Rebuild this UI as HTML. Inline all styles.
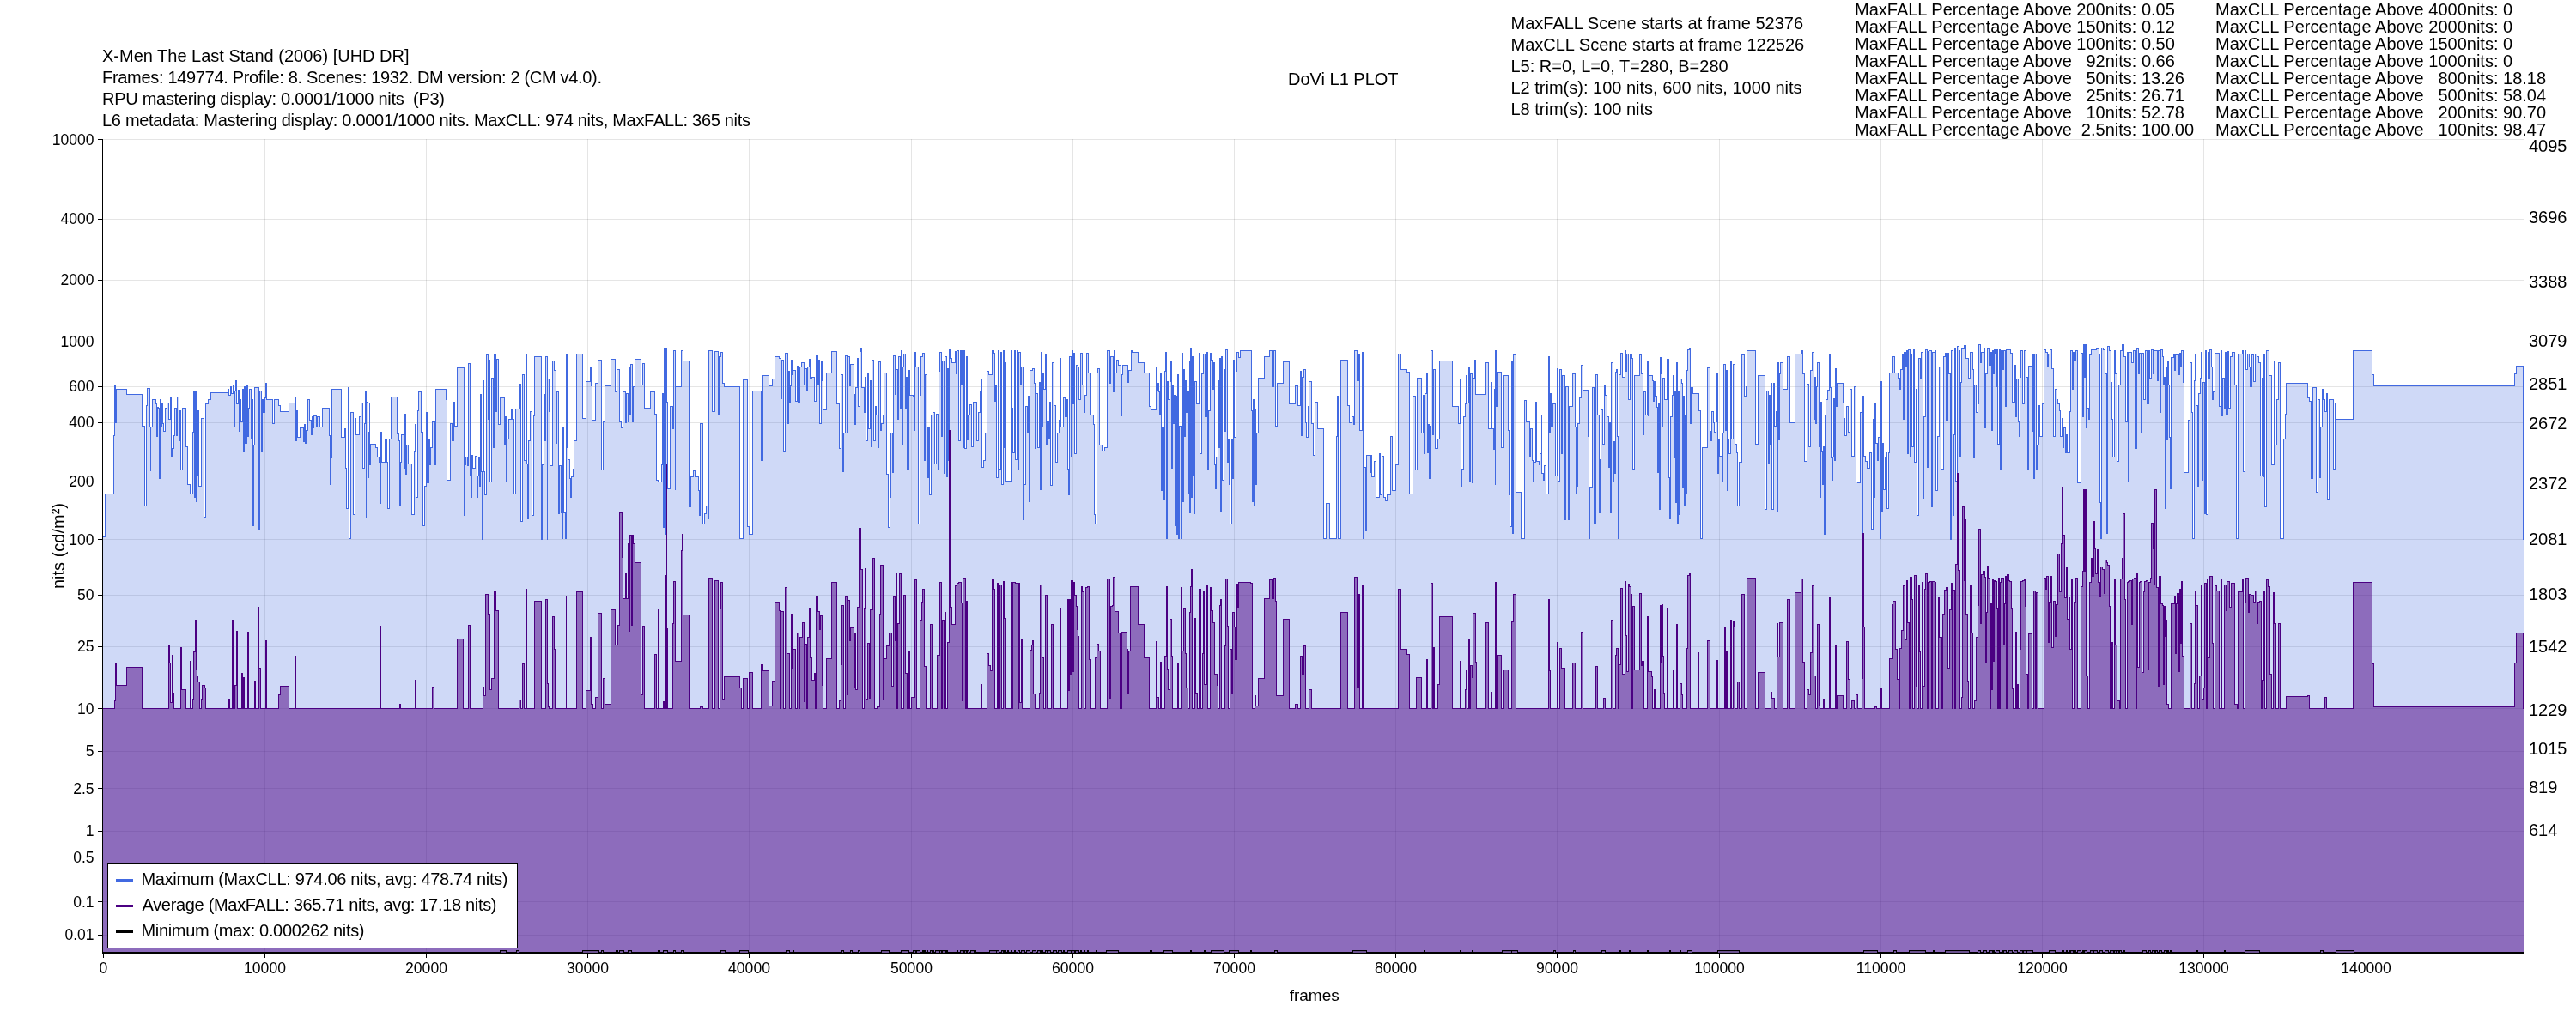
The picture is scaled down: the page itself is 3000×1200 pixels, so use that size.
<!DOCTYPE html><html><head><meta charset="utf-8"><style>html,body{margin:0;padding:0;width:3000px;height:1200px;overflow:hidden;background:#fff}</style></head><body><svg width="3000" height="1200" viewBox="0 0 3000 1200" style="position:absolute;left:0;top:0;font-family:'Liberation Sans', sans-serif;will-change:transform">
<rect width="3000" height="1200" fill="#fff"/>
<g stroke="rgba(0,0,0,0.1)" stroke-width="1" fill="none" shape-rendering="crispEdges"><path d="M120 162.5H2940"/><path d="M120 255.5H2940"/><path d="M120 326.5H2940"/><path d="M120 398.5H2940"/><path d="M120 450.5H2940"/><path d="M120 492.5H2940"/><path d="M120 561.5H2940"/><path d="M120 628.5H2940"/><path d="M120 693.5H2940"/><path d="M120 753.5H2940"/><path d="M120 825.5H2940"/><path d="M120 875.5H2940"/><path d="M120 918.5H2940"/><path d="M120 968.5H2940"/><path d="M120 998.5H2940"/><path d="M120 1050.5H2940"/><path d="M120 1089.5H2940"/><path d="M308.5 162V1110"/><path d="M496.5 162V1110"/><path d="M684.5 162V1110"/><path d="M872.5 162V1110"/><path d="M1061.5 162V1110"/><path d="M1249.5 162V1110"/><path d="M1437.5 162V1110"/><path d="M1625.5 162V1110"/><path d="M1813.5 162V1110"/><path d="M2002.5 162V1110"/><path d="M2190.5 162V1110"/><path d="M2378.5 162V1110"/><path d="M2566.5 162V1110"/><path d="M2755.5 162V1110"/></g>
<path d="M119.5 1109.6V625.5H122.5V575.5H132.5V507.5H133.5V449.5H134.5V492.5H135.5V453.5H147.5V459.5H165.5V496.5H168.5V589.5H170.5V472.5H171.5V452.5H174.5V497.5H175.5V548.5H175.5V497.5H177.5V465.5H181.5V470.5H182.5V508.5H183.5V474.5H184.5V475.5H185.5V557.5H186.5V465.5H187.5V496.5H188.5V470.5H189.5V493.5H190.5V502.5H192.5V475.5H194.5V469.5H196.5V488.5H198.5V462.5H199.5V532.5H200.5V522.5H202.5V507.5H203.5V475.5H205.5V507.5H206.5V462.5H208.5V513.5H209.5V478.5H210.5V547.5H212.5V475.5H216.5V520.5H218.5V564.5H221.5V575.5H224.5V503.5H225.5V455.5H226.5V579.5H227.5V456.5H228.5V584.5H229.5V468.5H229.5V554.5H230.5V478.5H231.5V566.5H234.5V487.5H237.5V602.5H239.5V470.5H242.5V465.5H245.5V457.5H265.5V453.5H266.5V460.5H268.5V450.5H269.5V458.5H271.5V448.5H272.5V497.5H273.5V455.5H274.5V443.5H275.5V470.5H277.5V454.5H278.5V502.5H279.5V465.5H280.5V491.5H282.5V453.5H283.5V526.5H284.5V450.5H285.5V516.5H287.5V448.5H288.5V508.5H289.5V475.5H290.5V453.5H292.5V511.5H293.5V465.5H294.5V612.5H295.5V518.5H296.5V451.5H301.5V455.5H301.5V616.5H302.5V455.5H304.5V526.5H305.5V465.5H306.5V480.5H308.5V463.5H309.5V446.5H310.5V465.5H317.5V493.5H319.5V465.5H324.5V472.5H326.5V479.5H336.5V469.5H343.5V463.5H344.5V513.5H345.5V478.5H346.5V509.5H349.5V498.5H353.5V514.5H354.5V494.5H355.5V516.5H356.5V501.5H358.5V465.5H360.5V489.5H362.5V506.5H363.5V485.5H365.5V498.5H365.5V484.5H368.5V496.5H369.5V485.5H372.5V497.5H375.5V475.5H383.5V507.5H384.5V564.5H385.5V533.5H386.5V453.5H397.5V509.5H401.5V499.5H402.5V545.5H403.5V592.5H405.5V451.5H406.5V627.5H408.5V480.5H411.5V599.5H413.5V487.5H414.5V506.5H418.5V485.5H420.5V469.5H422.5V545.5H424.5V493.5H425.5V455.5H426.5V603.5H426.5V468.5H428.5V556.5H429.5V503.5H430.5V468.5H430.5V541.5H431.5V517.5H437.5V521.5H439.5V532.5H441.5V538.5H442.5V586.5H443.5V503.5H444.5V538.5H448.5V511.5H450.5V538.5H451.5V592.5H453.5V511.5H455.5V462.5H462.5V505.5H464.5V513.5H465.5V589.5H466.5V538.5H467.5V506.5H470.5V545.5H471.5V482.5H472.5V552.5H473.5V518.5H475.5V540.5H479.5V599.5H482.5V526.5H483.5V494.5H484.5V579.5H486.5V478.5H487.5V456.5H490.5V503.5H492.5V612.5H494.5V566.5H496.5V480.5H497.5V562.5H499.5V511.5H500.5V541.5H501.5V521.5H503.5V491.5H506.5V541.5H507.5V453.5H519.5V465.5H520.5V559.5H524.5V493.5H526.5V513.5H528.5V468.5H529.5V496.5H532.5V428.5H540.5V541.5H540.5V600.5H541.5V541.5H542.5V532.5H544.5V542.5H545.5V423.5H547.5V554.5H548.5V579.5H549.5V530.5H550.5V545.5H553.5V531.5H555.5V579.5H556.5V554.5H557.5V532.5H558.5V566.5H559.5V459.5H560.5V549.5H561.5V628.5H562.5V443.5H563.5V549.5H564.5V576.5H566.5V413.5H568.5V488.5H569.5V419.5H570.5V561.5H572.5V440.5H574.5V521.5H575.5V412.5H577.5V479.5H578.5V418.5H580.5V494.5H582.5V463.5H587.5V485.5H587.5V518.5H588.5V485.5H589.5V561.5H590.5V511.5H592.5V488.5H595.5V477.5H596.5V488.5H598.5V575.5H600.5V476.5H605.5V447.5H606.5V607.5H608.5V436.5H610.5V536.5H612.5V412.5H613.5V540.5H614.5V604.5H615.5V513.5H617.5V479.5H619.5V451.5H619.5V600.5H621.5V484.5H622.5V415.5H630.5V628.5H631.5V541.5H633.5V459.5H634.5V513.5H635.5V415.5H637.5V628.5H637.5V441.5H639.5V479.5H640.5V542.5H643.5V420.5H645.5V431.5H647.5V516.5H648.5V456.5H650.5V485.5H650.5V598.5H651.5V542.5H653.5V597.5H654.5V627.5H655.5V498.5H656.5V597.5H658.5V627.5H659.5V413.5H660.5V521.5H661.5V535.5H663.5V557.5H664.5V579.5H665.5V555.5H667.5V546.5H668.5V513.5H671.5V412.5H678.5V487.5H682.5V444.5H687.5V427.5H688.5V449.5H689.5V489.5H693.5V446.5H696.5V419.5H700.5V547.5H702.5V491.5H704.5V449.5H711.5V418.5H716.5V456.5H718.5V430.5H721.5V491.5H723.5V498.5H725.5V456.5H728.5V492.5H729.5V458.5H731.5V491.5H732.5V427.5H733.5V483.5H734.5V424.5H736.5V491.5H737.5V450.5H739.5V418.5H746.5V448.5H748.5V423.5H750.5V475.5H757.5V456.5H762.5V482.5H764.5V559.5H766.5V561.5H770.5V541.5H771.5V458.5H772.5V614.5H773.5V406.5H774.5V622.5H775.5V406.5H776.5V468.5H777.5V569.5H780.5V473.5H783.5V499.5H784.5V408.5H786.5V570.5H786.5V450.5H793.5V408.5H795.5V420.5H802.5V590.5H804.5V555.5H807.5V548.5H809.5V555.5H813.5V571.5H814.5V600.5H815.5V493.5H818.5V610.5H820.5V598.5H822.5V589.5H824.5V604.5H825.5V408.5H829.5V479.5H832.5V409.5H836.5V482.5H837.5V415.5H839.5V410.5H841.5V446.5H843.5V450.5H861.5V627.5H865.5V442.5H870.5V613.5H872.5V622.5H876.5V455.5H886.5V536.5H888.5V437.5H895.5V449.5H899.5V441.5H902.5V415.5H907.5V417.5H909.5V464.5H910.5V419.5H912.5V526.5H914.5V411.5H917.5V493.5H918.5V432.5H919.5V469.5H920.5V449.5H921.5V419.5H922.5V436.5H923.5V431.5H926.5V467.5H928.5V426.5H929.5V469.5H931.5V427.5H933.5V422.5H936.5V448.5H937.5V429.5H939.5V455.5H940.5V427.5H942.5V418.5H943.5V440.5H945.5V439.5H948.5V467.5H950.5V414.5H952.5V448.5H953.5V419.5H954.5V493.5H956.5V420.5H957.5V443.5H958.5V477.5H962.5V434.5H968.5V409.5H974.5V470.5H977.5V522.5H979.5V436.5H981.5V549.5H982.5V504.5H984.5V414.5H986.5V504.5H987.5V415.5H989.5V449.5H990.5V424.5H994.5V459.5H995.5V494.5H996.5V451.5H998.5V417.5H999.5V473.5H1001.5V409.5H1002.5V405.5H1003.5V451.5H1006.5V480.5H1007.5V439.5H1008.5V513.5H1010.5V435.5H1011.5V499.5H1013.5V443.5H1014.5V520.5H1015.5V419.5H1017.5V513.5H1019.5V473.5H1020.5V483.5H1022.5V521.5H1023.5V421.5H1025.5V501.5H1026.5V493.5H1028.5V484.5H1029.5V434.5H1032.5V552.5H1034.5V614.5H1036.5V579.5H1037.5V504.5H1039.5V550.5H1040.5V414.5H1042.5V459.5H1043.5V430.5H1045.5V488.5H1046.5V415.5H1048.5V475.5H1049.5V408.5H1050.5V517.5H1051.5V427.5H1052.5V412.5H1054.5V475.5H1055.5V439.5H1056.5V547.5H1058.5V431.5H1059.5V460.5H1063.5V461.5H1064.5V501.5H1065.5V410.5H1066.5V427.5H1069.5V610.5H1071.5V460.5H1072.5V415.5H1074.5V411.5H1076.5V536.5H1077.5V436.5H1079.5V498.5H1080.5V556.5H1081.5V498.5H1082.5V576.5H1084.5V483.5H1086.5V480.5H1088.5V540.5H1090.5V482.5H1092.5V547.5H1093.5V432.5H1094.5V410.5H1096.5V508.5H1097.5V420.5H1099.5V551.5H1100.5V415.5H1102.5V555.5H1103.5V429.5H1104.5V536.5H1105.5V407.5H1106.5V417.5H1108.5V422.5H1112.5V409.5H1113.5V435.5H1114.5V408.5H1116.5V513.5H1118.5V408.5H1119.5V448.5H1120.5V408.5H1121.5V521.5H1122.5V408.5H1123.5V522.5H1125.5V415.5H1126.5V512.5H1127.5V483.5H1129.5V471.5H1131.5V520.5H1133.5V468.5H1137.5V513.5H1139.5V480.5H1141.5V456.5H1142.5V441.5H1143.5V544.5H1145.5V536.5H1147.5V504.5H1149.5V432.5H1151.5V436.5H1155.5V408.5H1157.5V411.5H1158.5V467.5H1159.5V449.5H1160.5V556.5H1162.5V408.5H1163.5V546.5H1165.5V410.5H1166.5V564.5H1168.5V408.5H1169.5V521.5H1171.5V421.5H1171.5V560.5H1177.5V408.5H1178.5V475.5H1179.5V527.5H1181.5V408.5H1182.5V535.5H1184.5V408.5H1185.5V547.5H1186.5V410.5H1188.5V448.5H1189.5V427.5H1191.5V605.5H1192.5V564.5H1194.5V473.5H1196.5V503.5H1197.5V461.5H1198.5V584.5H1199.5V431.5H1202.5V429.5H1204.5V446.5H1205.5V522.5H1206.5V458.5H1208.5V521.5H1210.5V445.5H1211.5V570.5H1212.5V410.5H1213.5V496.5H1214.5V434.5H1215.5V453.5H1217.5V413.5H1218.5V518.5H1219.5V491.5H1221.5V511.5H1222.5V468.5H1223.5V565.5H1225.5V422.5H1227.5V472.5H1229.5V538.5H1231.5V504.5H1233.5V489.5H1234.5V417.5H1235.5V497.5H1238.5V463.5H1240.5V485.5H1242.5V465.5H1243.5V546.5H1244.5V576.5H1245.5V415.5H1247.5V531.5H1248.5V408.5H1249.5V470.5H1250.5V411.5H1251.5V528.5H1253.5V425.5H1255.5V427.5H1256.5V465.5H1258.5V411.5H1260.5V448.5H1262.5V480.5H1263.5V460.5H1265.5V411.5H1267.5V434.5H1269.5V483.5H1273.5V494.5H1274.5V599.5H1275.5V610.5H1277.5V434.5H1278.5V429.5H1280.5V518.5H1283.5V525.5H1286.5V521.5H1289.5V408.5H1292.5V446.5H1293.5V415.5H1296.5V456.5H1297.5V408.5H1298.5V434.5H1300.5V419.5H1302.5V425.5H1305.5V484.5H1306.5V436.5H1307.5V425.5H1313.5V445.5H1314.5V431.5H1317.5V408.5H1318.5V410.5H1325.5V422.5H1332.5V434.5H1338.5V473.5H1340.5V477.5H1346.5V427.5H1347.5V455.5H1348.5V446.5H1349.5V456.5H1350.5V483.5H1351.5V435.5H1352.5V571.5H1353.5V497.5H1355.5V581.5H1356.5V432.5H1357.5V410.5H1358.5V627.5H1359.5V444.5H1360.5V465.5H1362.5V444.5H1363.5V421.5H1364.5V545.5H1365.5V448.5H1366.5V493.5H1367.5V460.5H1368.5V612.5H1369.5V461.5H1370.5V622.5H1371.5V436.5H1372.5V627.5H1373.5V496.5H1375.5V627.5H1376.5V411.5H1377.5V584.5H1378.5V430.5H1379.5V508.5H1380.5V443.5H1381.5V480.5H1382.5V455.5H1384.5V574.5H1385.5V419.5H1385.5V597.5H1386.5V405.5H1387.5V579.5H1388.5V415.5H1389.5V554.5H1390.5V598.5H1391.5V444.5H1393.5V470.5H1396.5V411.5H1397.5V528.5H1399.5V435.5H1401.5V412.5H1403.5V485.5H1405.5V410.5H1406.5V546.5H1407.5V478.5H1409.5V411.5H1410.5V419.5H1412.5V453.5H1413.5V422.5H1414.5V541.5H1415.5V569.5H1416.5V532.5H1418.5V443.5H1419.5V521.5H1420.5V417.5H1421.5V595.5H1422.5V415.5H1423.5V559.5H1425.5V430.5H1426.5V502.5H1427.5V407.5H1429.5V538.5H1430.5V511.5H1431.5V564.5H1432.5V610.5H1434.5V512.5H1435.5V557.5H1436.5V419.5H1437.5V509.5H1439.5V432.5H1440.5V410.5H1442.5V416.5H1444.5V408.5H1457.5V478.5H1458.5V584.5H1459.5V465.5H1460.5V589.5H1461.5V477.5H1462.5V564.5H1463.5V504.5H1465.5V440.5H1472.5V415.5H1478.5V408.5H1481.5V450.5H1483.5V408.5H1485.5V496.5H1487.5V446.5H1494.5V421.5H1501.5V470.5H1508.5V449.5H1511.5V472.5H1514.5V432.5H1515.5V507.5H1516.5V439.5H1518.5V430.5H1520.5V492.5H1521.5V509.5H1523.5V473.5H1524.5V444.5H1527.5V493.5H1529.5V530.5H1531.5V468.5H1534.5V499.5H1541.5V627.5H1544.5V586.5H1548.5V627.5H1556.5V508.5H1557.5V461.5H1558.5V627.5H1561.5V419.5H1569.5V472.5H1571.5V492.5H1574.5V485.5H1576.5V494.5H1577.5V408.5H1580.5V443.5H1582.5V412.5H1583.5V501.5H1586.5V410.5H1587.5V627.5H1588.5V544.5H1590.5V618.5H1591.5V530.5H1595.5V550.5H1596.5V530.5H1597.5V555.5H1600.5V537.5H1602.5V579.5H1606.5V528.5H1607.5V576.5H1609.5V531.5H1611.5V579.5H1613.5V583.5H1615.5V576.5H1619.5V508.5H1621.5V571.5H1625.5V541.5H1628.5V412.5H1631.5V430.5H1638.5V433.5H1641.5V575.5H1645.5V461.5H1648.5V547.5H1650.5V440.5H1655.5V504.5H1657.5V460.5H1658.5V528.5H1659.5V458.5H1661.5V434.5H1662.5V527.5H1663.5V494.5H1664.5V557.5H1665.5V496.5H1666.5V408.5H1668.5V506.5H1669.5V430.5H1671.5V522.5H1674.5V511.5H1676.5V420.5H1691.5V473.5H1698.5V493.5H1700.5V441.5H1701.5V566.5H1702.5V546.5H1704.5V485.5H1706.5V470.5H1707.5V437.5H1708.5V469.5H1710.5V427.5H1711.5V561.5H1712.5V435.5H1714.5V562.5H1715.5V440.5H1717.5V419.5H1718.5V459.5H1730.5V422.5H1733.5V499.5H1736.5V445.5H1737.5V499.5H1739.5V523.5H1740.5V453.5H1741.5V564.5H1741.5V408.5H1742.5V473.5H1743.5V433.5H1748.5V521.5H1750.5V437.5H1756.5V501.5H1757.5V576.5H1758.5V613.5H1760.5V421.5H1761.5V621.5H1762.5V413.5H1765.5V573.5H1771.5V627.5H1775.5V466.5H1777.5V491.5H1781.5V531.5H1782.5V499.5H1784.5V536.5H1785.5V561.5H1786.5V538.5H1788.5V468.5H1789.5V537.5H1792.5V541.5H1793.5V528.5H1795.5V482.5H1795.5V551.5H1797.5V559.5H1798.5V542.5H1800.5V575.5H1803.5V415.5H1804.5V504.5H1805.5V458.5H1806.5V496.5H1808.5V470.5H1811.5V554.5H1813.5V429.5H1814.5V560.5H1816.5V430.5H1818.5V528.5H1819.5V437.5H1822.5V605.5H1823.5V450.5H1826.5V605.5H1827.5V473.5H1831.5V435.5H1834.5V497.5H1835.5V574.5H1836.5V566.5H1837.5V493.5H1839.5V463.5H1841.5V425.5H1843.5V454.5H1849.5V508.5H1850.5V627.5H1851.5V567.5H1854.5V451.5H1856.5V609.5H1858.5V436.5H1860.5V483.5H1862.5V597.5H1863.5V535.5H1864.5V477.5H1866.5V517.5H1868.5V448.5H1869.5V460.5H1871.5V485.5H1873.5V544.5H1874.5V492.5H1875.5V597.5H1876.5V422.5H1878.5V561.5H1879.5V514.5H1880.5V551.5H1881.5V433.5H1882.5V430.5H1883.5V508.5H1884.5V627.5H1885.5V436.5H1887.5V411.5H1889.5V439.5H1892.5V408.5H1893.5V432.5H1894.5V412.5H1896.5V465.5H1898.5V413.5H1900.5V417.5H1901.5V546.5H1903.5V437.5H1909.5V413.5H1911.5V435.5H1913.5V506.5H1914.5V456.5H1916.5V483.5H1918.5V420.5H1919.5V484.5H1920.5V437.5H1924.5V443.5H1925.5V467.5H1926.5V444.5H1927.5V461.5H1929.5V474.5H1930.5V550.5H1931.5V469.5H1932.5V593.5H1933.5V416.5H1934.5V435.5H1935.5V496.5H1936.5V440.5H1938.5V465.5H1941.5V418.5H1943.5V556.5H1944.5V604.5H1945.5V485.5H1947.5V460.5H1948.5V437.5H1949.5V533.5H1950.5V455.5H1951.5V585.5H1952.5V422.5H1953.5V609.5H1954.5V456.5H1955.5V599.5H1956.5V441.5H1958.5V446.5H1959.5V568.5H1960.5V461.5H1961.5V588.5H1962.5V484.5H1963.5V574.5H1964.5V431.5H1965.5V407.5H1967.5V406.5H1968.5V493.5H1969.5V451.5H1971.5V458.5H1978.5V478.5H1980.5V627.5H1982.5V521.5H1988.5V428.5H1991.5V502.5H1992.5V513.5H1993.5V479.5H1995.5V492.5H1996.5V503.5H1998.5V491.5H1999.5V434.5H2000.5V551.5H2001.5V512.5H2002.5V531.5H2005.5V561.5H2006.5V504.5H2007.5V424.5H2009.5V501.5H2010.5V431.5H2011.5V571.5H2012.5V511.5H2013.5V528.5H2015.5V421.5H2016.5V511.5H2018.5V424.5H2020.5V517.5H2022.5V527.5H2023.5V589.5H2025.5V538.5H2028.5V413.5H2031.5V461.5H2033.5V450.5H2034.5V408.5H2044.5V517.5H2047.5V437.5H2055.5V593.5H2057.5V455.5H2059.5V540.5H2060.5V460.5H2061.5V517.5H2063.5V445.5H2063.5V593.5H2065.5V446.5H2066.5V496.5H2068.5V479.5H2069.5V595.5H2070.5V422.5H2071.5V512.5H2072.5V435.5H2073.5V422.5H2076.5V453.5H2081.5V415.5H2084.5V492.5H2090.5V412.5H2098.5V408.5H2099.5V435.5H2101.5V537.5H2104.5V447.5H2106.5V520.5H2108.5V431.5H2110.5V410.5H2112.5V488.5H2113.5V439.5H2114.5V493.5H2115.5V450.5H2116.5V422.5H2118.5V520.5H2119.5V579.5H2120.5V468.5H2121.5V526.5H2122.5V564.5H2123.5V520.5H2124.5V622.5H2125.5V483.5H2126.5V465.5H2128.5V454.5H2130.5V413.5H2131.5V451.5H2132.5V533.5H2133.5V559.5H2134.5V532.5H2135.5V464.5H2136.5V536.5H2137.5V429.5H2138.5V473.5H2139.5V446.5H2146.5V468.5H2147.5V487.5H2148.5V507.5H2150.5V473.5H2152.5V503.5H2154.5V453.5H2156.5V531.5H2159.5V450.5H2161.5V561.5H2163.5V562.5H2166.5V480.5H2168.5V627.5H2169.5V461.5H2170.5V531.5H2172.5V537.5H2174.5V545.5H2177.5V527.5H2179.5V616.5H2181.5V488.5H2182.5V579.5H2183.5V469.5H2184.5V516.5H2186.5V536.5H2187.5V509.5H2189.5V627.5H2190.5V444.5H2191.5V595.5H2192.5V516.5H2193.5V570.5H2195.5V533.5H2196.5V527.5H2197.5V592.5H2199.5V527.5H2200.5V434.5H2203.5V415.5H2206.5V434.5H2210.5V440.5H2212.5V453.5H2213.5V430.5H2215.5V412.5H2216.5V488.5H2217.5V410.5H2219.5V427.5H2220.5V408.5H2221.5V528.5H2222.5V407.5H2224.5V532.5H2225.5V413.5H2226.5V520.5H2228.5V407.5H2229.5V538.5H2231.5V453.5H2232.5V600.5H2234.5V417.5H2236.5V440.5H2237.5V410.5H2239.5V580.5H2240.5V485.5H2242.5V407.5H2244.5V544.5H2245.5V409.5H2246.5V408.5H2249.5V590.5H2250.5V410.5H2253.5V408.5H2254.5V571.5H2256.5V508.5H2258.5V427.5H2260.5V546.5H2263.5V415.5H2265.5V411.5H2266.5V489.5H2268.5V411.5H2269.5V435.5H2271.5V628.5H2272.5V408.5H2274.5V600.5H2275.5V506.5H2276.5V406.5H2277.5V560.5H2279.5V403.5H2281.5V408.5H2282.5V531.5H2283.5V445.5H2284.5V406.5H2287.5V402.5H2289.5V417.5H2292.5V440.5H2294.5V410.5H2297.5V430.5H2298.5V533.5H2299.5V448.5H2301.5V480.5H2303.5V470.5H2304.5V401.5H2306.5V422.5H2307.5V410.5H2310.5V405.5H2311.5V498.5H2312.5V435.5H2314.5V406.5H2316.5V425.5H2318.5V410.5H2319.5V501.5H2320.5V408.5H2321.5V435.5H2322.5V407.5H2323.5V412.5H2324.5V450.5H2325.5V407.5H2326.5V517.5H2328.5V407.5H2329.5V546.5H2330.5V408.5H2332.5V430.5H2333.5V408.5H2335.5V473.5H2336.5V407.5H2341.5V411.5H2343.5V468.5H2346.5V425.5H2347.5V485.5H2348.5V441.5H2350.5V491.5H2351.5V508.5H2352.5V439.5H2353.5V408.5H2355.5V470.5H2357.5V408.5H2359.5V439.5H2361.5V546.5H2362.5V426.5H2366.5V502.5H2367.5V412.5H2368.5V557.5H2369.5V412.5H2371.5V546.5H2372.5V518.5H2374.5V472.5H2375.5V508.5H2378.5V470.5H2380.5V407.5H2382.5V410.5H2384.5V427.5H2385.5V412.5H2387.5V407.5H2389.5V429.5H2391.5V508.5H2393.5V453.5H2395.5V465.5H2396.5V470.5H2398.5V478.5H2399.5V508.5H2401.5V487.5H2402.5V521.5H2403.5V498.5H2405.5V527.5H2406.5V506.5H2407.5V527.5H2410.5V479.5H2411.5V408.5H2413.5V453.5H2414.5V410.5H2415.5V420.5H2417.5V408.5H2419.5V562.5H2423.5V411.5H2425.5V485.5H2426.5V401.5H2427.5V439.5H2428.5V401.5H2429.5V498.5H2430.5V475.5H2432.5V488.5H2433.5V413.5H2435.5V407.5H2441.5V406.5H2444.5V413.5H2445.5V585.5H2446.5V627.5H2447.5V405.5H2449.5V407.5H2451.5V435.5H2453.5V621.5H2454.5V403.5H2456.5V408.5H2458.5V445.5H2459.5V488.5H2460.5V532.5H2462.5V408.5H2463.5V435.5H2465.5V537.5H2467.5V448.5H2469.5V408.5H2471.5V401.5H2473.5V415.5H2475.5V491.5H2477.5V410.5H2478.5V561.5H2479.5V410.5H2482.5V422.5H2484.5V408.5H2486.5V522.5H2488.5V406.5H2490.5V435.5H2491.5V411.5H2493.5V503.5H2494.5V411.5H2496.5V465.5H2498.5V408.5H2500.5V470.5H2502.5V408.5H2503.5V440.5H2505.5V407.5H2507.5V435.5H2508.5V408.5H2512.5V443.5H2513.5V408.5H2515.5V480.5H2516.5V407.5H2518.5V415.5H2519.5V448.5H2520.5V439.5H2521.5V592.5H2522.5V427.5H2523.5V512.5H2524.5V421.5H2525.5V448.5H2526.5V509.5H2527.5V569.5H2528.5V416.5H2531.5V413.5H2532.5V431.5H2533.5V413.5H2535.5V412.5H2537.5V436.5H2538.5V411.5H2539.5V427.5H2540.5V408.5H2542.5V445.5H2543.5V550.5H2548.5V489.5H2550.5V422.5H2552.5V480.5H2553.5V627.5H2555.5V443.5H2556.5V412.5H2557.5V472.5H2559.5V566.5H2560.5V458.5H2562.5V440.5H2563.5V410.5H2564.5V559.5H2565.5V445.5H2567.5V598.5H2568.5V408.5H2569.5V599.5H2571.5V410.5H2572.5V440.5H2573.5V407.5H2575.5V427.5H2576.5V465.5H2577.5V456.5H2579.5V411.5H2584.5V473.5H2586.5V408.5H2587.5V484.5H2588.5V440.5H2590.5V475.5H2591.5V410.5H2592.5V483.5H2594.5V409.5H2595.5V475.5H2597.5V415.5H2599.5V410.5H2602.5V448.5H2604.5V627.5H2606.5V412.5H2611.5V408.5H2612.5V549.5H2614.5V408.5H2615.5V430.5H2617.5V412.5H2619.5V427.5H2620.5V450.5H2622.5V413.5H2624.5V444.5H2626.5V412.5H2628.5V415.5H2630.5V422.5H2632.5V554.5H2634.5V440.5H2635.5V555.5H2636.5V412.5H2637.5V590.5H2639.5V408.5H2642.5V437.5H2645.5V541.5H2648.5V421.5H2649.5V518.5H2651.5V465.5H2653.5V422.5H2655.5V627.5H2659.5V511.5H2661.5V482.5H2662.5V446.5H2687.5V463.5H2689.5V467.5H2691.5V557.5H2693.5V451.5H2697.5V573.5H2699.5V465.5H2701.5V556.5H2702.5V497.5H2704.5V453.5H2705.5V465.5H2707.5V479.5H2709.5V458.5H2710.5V581.5H2712.5V465.5H2717.5V546.5H2719.5V469.5H2720.5V488.5H2740.5V408.5H2762.5V436.5H2764.5V449.5H2928.5V435.5H2930.5V426.5H2938.5V1109.6Z" fill="rgba(65,105,225,0.25)" stroke="none" shape-rendering="crispEdges"/>
<path d="M119.5 1109.6V625.5H122.5V575.5H132.5V507.5H133.5V449.5H134.5V492.5H135.5V453.5H147.5V459.5H165.5V496.5H168.5V589.5H170.5V472.5H171.5V452.5H174.5V497.5H175.5V548.5H175.5V497.5H177.5V465.5H181.5V470.5H182.5V508.5H183.5V474.5H184.5V475.5H185.5V557.5H186.5V465.5H187.5V496.5H188.5V470.5H189.5V493.5H190.5V502.5H192.5V475.5H194.5V469.5H196.5V488.5H198.5V462.5H199.5V532.5H200.5V522.5H202.5V507.5H203.5V475.5H205.5V507.5H206.5V462.5H208.5V513.5H209.5V478.5H210.5V547.5H212.5V475.5H216.5V520.5H218.5V564.5H221.5V575.5H224.5V503.5H225.5V455.5H226.5V579.5H227.5V456.5H228.5V584.5H229.5V468.5H229.5V554.5H230.5V478.5H231.5V566.5H234.5V487.5H237.5V602.5H239.5V470.5H242.5V465.5H245.5V457.5H265.5V453.5H266.5V460.5H268.5V450.5H269.5V458.5H271.5V448.5H272.5V497.5H273.5V455.5H274.5V443.5H275.5V470.5H277.5V454.5H278.5V502.5H279.5V465.5H280.5V491.5H282.5V453.5H283.5V526.5H284.5V450.5H285.5V516.5H287.5V448.5H288.5V508.5H289.5V475.5H290.5V453.5H292.5V511.5H293.5V465.5H294.5V612.5H295.5V518.5H296.5V451.5H301.5V455.5H301.5V616.5H302.5V455.5H304.5V526.5H305.5V465.5H306.5V480.5H308.5V463.5H309.5V446.5H310.5V465.5H317.5V493.5H319.5V465.5H324.5V472.5H326.5V479.5H336.5V469.5H343.5V463.5H344.5V513.5H345.5V478.5H346.5V509.5H349.5V498.5H353.5V514.5H354.5V494.5H355.5V516.5H356.5V501.5H358.5V465.5H360.5V489.5H362.5V506.5H363.5V485.5H365.5V498.5H365.5V484.5H368.5V496.5H369.5V485.5H372.5V497.5H375.5V475.5H383.5V507.5H384.5V564.5H385.5V533.5H386.5V453.5H397.5V509.5H401.5V499.5H402.5V545.5H403.5V592.5H405.5V451.5H406.5V627.5H408.5V480.5H411.5V599.5H413.5V487.5H414.5V506.5H418.5V485.5H420.5V469.5H422.5V545.5H424.5V493.5H425.5V455.5H426.5V603.5H426.5V468.5H428.5V556.5H429.5V503.5H430.5V468.5H430.5V541.5H431.5V517.5H437.5V521.5H439.5V532.5H441.5V538.5H442.5V586.5H443.5V503.5H444.5V538.5H448.5V511.5H450.5V538.5H451.5V592.5H453.5V511.5H455.5V462.5H462.5V505.5H464.5V513.5H465.5V589.5H466.5V538.5H467.5V506.5H470.5V545.5H471.5V482.5H472.5V552.5H473.5V518.5H475.5V540.5H479.5V599.5H482.5V526.5H483.5V494.5H484.5V579.5H486.5V478.5H487.5V456.5H490.5V503.5H492.5V612.5H494.5V566.5H496.5V480.5H497.5V562.5H499.5V511.5H500.5V541.5H501.5V521.5H503.5V491.5H506.5V541.5H507.5V453.5H519.5V465.5H520.5V559.5H524.5V493.5H526.5V513.5H528.5V468.5H529.5V496.5H532.5V428.5H540.5V541.5H540.5V600.5H541.5V541.5H542.5V532.5H544.5V542.5H545.5V423.5H547.5V554.5H548.5V579.5H549.5V530.5H550.5V545.5H553.5V531.5H555.5V579.5H556.5V554.5H557.5V532.5H558.5V566.5H559.5V459.5H560.5V549.5H561.5V628.5H562.5V443.5H563.5V549.5H564.5V576.5H566.5V413.5H568.5V488.5H569.5V419.5H570.5V561.5H572.5V440.5H574.5V521.5H575.5V412.5H577.5V479.5H578.5V418.5H580.5V494.5H582.5V463.5H587.5V485.5H587.5V518.5H588.5V485.5H589.5V561.5H590.5V511.5H592.5V488.5H595.5V477.5H596.5V488.5H598.5V575.5H600.5V476.5H605.5V447.5H606.5V607.5H608.5V436.5H610.5V536.5H612.5V412.5H613.5V540.5H614.5V604.5H615.5V513.5H617.5V479.5H619.5V451.5H619.5V600.5H621.5V484.5H622.5V415.5H630.5V628.5H631.5V541.5H633.5V459.5H634.5V513.5H635.5V415.5H637.5V628.5H637.5V441.5H639.5V479.5H640.5V542.5H643.5V420.5H645.5V431.5H647.5V516.5H648.5V456.5H650.5V485.5H650.5V598.5H651.5V542.5H653.5V597.5H654.5V627.5H655.5V498.5H656.5V597.5H658.5V627.5H659.5V413.5H660.5V521.5H661.5V535.5H663.5V557.5H664.5V579.5H665.5V555.5H667.5V546.5H668.5V513.5H671.5V412.5H678.5V487.5H682.5V444.5H687.5V427.5H688.5V449.5H689.5V489.5H693.5V446.5H696.5V419.5H700.5V547.5H702.5V491.5H704.5V449.5H711.5V418.5H716.5V456.5H718.5V430.5H721.5V491.5H723.5V498.5H725.5V456.5H728.5V492.5H729.5V458.5H731.5V491.5H732.5V427.5H733.5V483.5H734.5V424.5H736.5V491.5H737.5V450.5H739.5V418.5H746.5V448.5H748.5V423.5H750.5V475.5H757.5V456.5H762.5V482.5H764.5V559.5H766.5V561.5H770.5V541.5H771.5V458.5H772.5V614.5H773.5V406.5H774.5V622.5H775.5V406.5H776.5V468.5H777.5V569.5H780.5V473.5H783.5V499.5H784.5V408.5H786.5V570.5H786.5V450.5H793.5V408.5H795.5V420.5H802.5V590.5H804.5V555.5H807.5V548.5H809.5V555.5H813.5V571.5H814.5V600.5H815.5V493.5H818.5V610.5H820.5V598.5H822.5V589.5H824.5V604.5H825.5V408.5H829.5V479.5H832.5V409.5H836.5V482.5H837.5V415.5H839.5V410.5H841.5V446.5H843.5V450.5H861.5V627.5H865.5V442.5H870.5V613.5H872.5V622.5H876.5V455.5H886.5V536.5H888.5V437.5H895.5V449.5H899.5V441.5H902.5V415.5H907.5V417.5H909.5V464.5H910.5V419.5H912.5V526.5H914.5V411.5H917.5V493.5H918.5V432.5H919.5V469.5H920.5V449.5H921.5V419.5H922.5V436.5H923.5V431.5H926.5V467.5H928.5V426.5H929.5V469.5H931.5V427.5H933.5V422.5H936.5V448.5H937.5V429.5H939.5V455.5H940.5V427.5H942.5V418.5H943.5V440.5H945.5V439.5H948.5V467.5H950.5V414.5H952.5V448.5H953.5V419.5H954.5V493.5H956.5V420.5H957.5V443.5H958.5V477.5H962.5V434.5H968.5V409.5H974.5V470.5H977.5V522.5H979.5V436.5H981.5V549.5H982.5V504.5H984.5V414.5H986.5V504.5H987.5V415.5H989.5V449.5H990.5V424.5H994.5V459.5H995.5V494.5H996.5V451.5H998.5V417.5H999.5V473.5H1001.5V409.5H1002.5V405.5H1003.5V451.5H1006.5V480.5H1007.5V439.5H1008.5V513.5H1010.5V435.5H1011.5V499.5H1013.5V443.5H1014.5V520.5H1015.5V419.5H1017.5V513.5H1019.5V473.5H1020.5V483.5H1022.5V521.5H1023.5V421.5H1025.5V501.5H1026.5V493.5H1028.5V484.5H1029.5V434.5H1032.5V552.5H1034.5V614.5H1036.5V579.5H1037.5V504.5H1039.5V550.5H1040.5V414.5H1042.5V459.5H1043.5V430.5H1045.5V488.5H1046.5V415.5H1048.5V475.5H1049.5V408.5H1050.5V517.5H1051.5V427.5H1052.5V412.5H1054.5V475.5H1055.5V439.5H1056.5V547.5H1058.5V431.5H1059.5V460.5H1063.5V461.5H1064.5V501.5H1065.5V410.5H1066.5V427.5H1069.5V610.5H1071.5V460.5H1072.5V415.5H1074.5V411.5H1076.5V536.5H1077.5V436.5H1079.5V498.5H1080.5V556.5H1081.5V498.5H1082.5V576.5H1084.5V483.5H1086.5V480.5H1088.5V540.5H1090.5V482.5H1092.5V547.5H1093.5V432.5H1094.5V410.5H1096.5V508.5H1097.5V420.5H1099.5V551.5H1100.5V415.5H1102.5V555.5H1103.5V429.5H1104.5V536.5H1105.5V407.5H1106.5V417.5H1108.5V422.5H1112.5V409.5H1113.5V435.5H1114.5V408.5H1116.5V513.5H1118.5V408.5H1119.5V448.5H1120.5V408.5H1121.5V521.5H1122.5V408.5H1123.5V522.5H1125.5V415.5H1126.5V512.5H1127.5V483.5H1129.5V471.5H1131.5V520.5H1133.5V468.5H1137.5V513.5H1139.5V480.5H1141.5V456.5H1142.5V441.5H1143.5V544.5H1145.5V536.5H1147.5V504.5H1149.5V432.5H1151.5V436.5H1155.5V408.5H1157.5V411.5H1158.5V467.5H1159.5V449.5H1160.5V556.5H1162.5V408.5H1163.5V546.5H1165.5V410.5H1166.5V564.5H1168.5V408.5H1169.5V521.5H1171.5V421.5H1171.5V560.5H1177.5V408.5H1178.5V475.5H1179.5V527.5H1181.5V408.5H1182.5V535.5H1184.5V408.5H1185.5V547.5H1186.5V410.5H1188.5V448.5H1189.5V427.5H1191.5V605.5H1192.5V564.5H1194.5V473.5H1196.5V503.5H1197.5V461.5H1198.5V584.5H1199.5V431.5H1202.5V429.5H1204.5V446.5H1205.5V522.5H1206.5V458.5H1208.5V521.5H1210.5V445.5H1211.5V570.5H1212.5V410.5H1213.5V496.5H1214.5V434.5H1215.5V453.5H1217.5V413.5H1218.5V518.5H1219.5V491.5H1221.5V511.5H1222.5V468.5H1223.5V565.5H1225.5V422.5H1227.5V472.5H1229.5V538.5H1231.5V504.5H1233.5V489.5H1234.5V417.5H1235.5V497.5H1238.5V463.5H1240.5V485.5H1242.5V465.5H1243.5V546.5H1244.5V576.5H1245.5V415.5H1247.5V531.5H1248.5V408.5H1249.5V470.5H1250.5V411.5H1251.5V528.5H1253.5V425.5H1255.5V427.5H1256.5V465.5H1258.5V411.5H1260.5V448.5H1262.5V480.5H1263.5V460.5H1265.5V411.5H1267.5V434.5H1269.5V483.5H1273.5V494.5H1274.5V599.5H1275.5V610.5H1277.5V434.5H1278.5V429.5H1280.5V518.5H1283.5V525.5H1286.5V521.5H1289.5V408.5H1292.5V446.5H1293.5V415.5H1296.5V456.5H1297.5V408.5H1298.5V434.5H1300.5V419.5H1302.5V425.5H1305.5V484.5H1306.5V436.5H1307.5V425.5H1313.5V445.5H1314.5V431.5H1317.5V408.5H1318.5V410.5H1325.5V422.5H1332.5V434.5H1338.5V473.5H1340.5V477.5H1346.5V427.5H1347.5V455.5H1348.5V446.5H1349.5V456.5H1350.5V483.5H1351.5V435.5H1352.5V571.5H1353.5V497.5H1355.5V581.5H1356.5V432.5H1357.5V410.5H1358.5V627.5H1359.5V444.5H1360.5V465.5H1362.5V444.5H1363.5V421.5H1364.5V545.5H1365.5V448.5H1366.5V493.5H1367.5V460.5H1368.5V612.5H1369.5V461.5H1370.5V622.5H1371.5V436.5H1372.5V627.5H1373.5V496.5H1375.5V627.5H1376.5V411.5H1377.5V584.5H1378.5V430.5H1379.5V508.5H1380.5V443.5H1381.5V480.5H1382.5V455.5H1384.5V574.5H1385.5V419.5H1385.5V597.5H1386.5V405.5H1387.5V579.5H1388.5V415.5H1389.5V554.5H1390.5V598.5H1391.5V444.5H1393.5V470.5H1396.5V411.5H1397.5V528.5H1399.5V435.5H1401.5V412.5H1403.5V485.5H1405.5V410.5H1406.5V546.5H1407.5V478.5H1409.5V411.5H1410.5V419.5H1412.5V453.5H1413.5V422.5H1414.5V541.5H1415.5V569.5H1416.5V532.5H1418.5V443.5H1419.5V521.5H1420.5V417.5H1421.5V595.5H1422.5V415.5H1423.5V559.5H1425.5V430.5H1426.5V502.5H1427.5V407.5H1429.5V538.5H1430.5V511.5H1431.5V564.5H1432.5V610.5H1434.5V512.5H1435.5V557.5H1436.5V419.5H1437.5V509.5H1439.5V432.5H1440.5V410.5H1442.5V416.5H1444.5V408.5H1457.5V478.5H1458.5V584.5H1459.5V465.5H1460.5V589.5H1461.5V477.5H1462.5V564.5H1463.5V504.5H1465.5V440.5H1472.5V415.5H1478.5V408.5H1481.5V450.5H1483.5V408.5H1485.5V496.5H1487.5V446.5H1494.5V421.5H1501.5V470.5H1508.5V449.5H1511.5V472.5H1514.5V432.5H1515.5V507.5H1516.5V439.5H1518.5V430.5H1520.5V492.5H1521.5V509.5H1523.5V473.5H1524.5V444.5H1527.5V493.5H1529.5V530.5H1531.5V468.5H1534.5V499.5H1541.5V627.5H1544.5V586.5H1548.5V627.5H1556.5V508.5H1557.5V461.5H1558.5V627.5H1561.5V419.5H1569.5V472.5H1571.5V492.5H1574.5V485.5H1576.5V494.5H1577.5V408.5H1580.5V443.5H1582.5V412.5H1583.5V501.5H1586.5V410.5H1587.5V627.5H1588.5V544.5H1590.5V618.5H1591.5V530.5H1595.5V550.5H1596.5V530.5H1597.5V555.5H1600.5V537.5H1602.5V579.5H1606.5V528.5H1607.5V576.5H1609.5V531.5H1611.5V579.5H1613.5V583.5H1615.5V576.5H1619.5V508.5H1621.5V571.5H1625.5V541.5H1628.5V412.5H1631.5V430.5H1638.5V433.5H1641.5V575.5H1645.5V461.5H1648.5V547.5H1650.5V440.5H1655.5V504.5H1657.5V460.5H1658.5V528.5H1659.5V458.5H1661.5V434.5H1662.5V527.5H1663.5V494.5H1664.5V557.5H1665.5V496.5H1666.5V408.5H1668.5V506.5H1669.5V430.5H1671.5V522.5H1674.5V511.5H1676.5V420.5H1691.5V473.5H1698.5V493.5H1700.5V441.5H1701.5V566.5H1702.5V546.5H1704.5V485.5H1706.5V470.5H1707.5V437.5H1708.5V469.5H1710.5V427.5H1711.5V561.5H1712.5V435.5H1714.5V562.5H1715.5V440.5H1717.5V419.5H1718.5V459.5H1730.5V422.5H1733.5V499.5H1736.5V445.5H1737.5V499.5H1739.5V523.5H1740.5V453.5H1741.5V564.5H1741.5V408.5H1742.5V473.5H1743.5V433.5H1748.5V521.5H1750.5V437.5H1756.5V501.5H1757.5V576.5H1758.5V613.5H1760.5V421.5H1761.5V621.5H1762.5V413.5H1765.5V573.5H1771.5V627.5H1775.5V466.5H1777.5V491.5H1781.5V531.5H1782.5V499.5H1784.5V536.5H1785.5V561.5H1786.5V538.5H1788.5V468.5H1789.5V537.5H1792.5V541.5H1793.5V528.5H1795.5V482.5H1795.5V551.5H1797.5V559.5H1798.5V542.5H1800.5V575.5H1803.5V415.5H1804.5V504.5H1805.5V458.5H1806.5V496.5H1808.5V470.5H1811.5V554.5H1813.5V429.5H1814.5V560.5H1816.5V430.5H1818.5V528.5H1819.5V437.5H1822.5V605.5H1823.5V450.5H1826.5V605.5H1827.5V473.5H1831.5V435.5H1834.5V497.5H1835.5V574.5H1836.5V566.5H1837.5V493.5H1839.5V463.5H1841.5V425.5H1843.5V454.5H1849.5V508.5H1850.5V627.5H1851.5V567.5H1854.5V451.5H1856.5V609.5H1858.5V436.5H1860.5V483.5H1862.5V597.5H1863.5V535.5H1864.5V477.5H1866.5V517.5H1868.5V448.5H1869.5V460.5H1871.5V485.5H1873.5V544.5H1874.5V492.5H1875.5V597.5H1876.5V422.5H1878.5V561.5H1879.5V514.5H1880.5V551.5H1881.5V433.5H1882.5V430.5H1883.5V508.5H1884.5V627.5H1885.5V436.5H1887.5V411.5H1889.5V439.5H1892.5V408.5H1893.5V432.5H1894.5V412.5H1896.5V465.5H1898.5V413.5H1900.5V417.5H1901.5V546.5H1903.5V437.5H1909.5V413.5H1911.5V435.5H1913.5V506.5H1914.5V456.5H1916.5V483.5H1918.5V420.5H1919.5V484.5H1920.5V437.5H1924.5V443.5H1925.5V467.5H1926.5V444.5H1927.5V461.5H1929.5V474.5H1930.5V550.5H1931.5V469.5H1932.5V593.5H1933.5V416.5H1934.5V435.5H1935.5V496.5H1936.5V440.5H1938.5V465.5H1941.5V418.5H1943.5V556.5H1944.5V604.5H1945.5V485.5H1947.5V460.5H1948.5V437.5H1949.5V533.5H1950.5V455.5H1951.5V585.5H1952.5V422.5H1953.5V609.5H1954.5V456.5H1955.5V599.5H1956.5V441.5H1958.5V446.5H1959.5V568.5H1960.5V461.5H1961.5V588.5H1962.5V484.5H1963.5V574.5H1964.5V431.5H1965.5V407.5H1967.5V406.5H1968.5V493.5H1969.5V451.5H1971.5V458.5H1978.5V478.5H1980.5V627.5H1982.5V521.5H1988.5V428.5H1991.5V502.5H1992.5V513.5H1993.5V479.5H1995.5V492.5H1996.5V503.5H1998.5V491.5H1999.5V434.5H2000.5V551.5H2001.5V512.5H2002.5V531.5H2005.5V561.5H2006.5V504.5H2007.5V424.5H2009.5V501.5H2010.5V431.5H2011.5V571.5H2012.5V511.5H2013.5V528.5H2015.5V421.5H2016.5V511.5H2018.5V424.5H2020.5V517.5H2022.5V527.5H2023.5V589.5H2025.5V538.5H2028.5V413.5H2031.5V461.5H2033.5V450.5H2034.5V408.5H2044.5V517.5H2047.5V437.5H2055.5V593.5H2057.5V455.5H2059.5V540.5H2060.5V460.5H2061.5V517.5H2063.5V445.5H2063.5V593.5H2065.5V446.5H2066.5V496.5H2068.5V479.5H2069.5V595.5H2070.5V422.5H2071.5V512.5H2072.5V435.5H2073.5V422.5H2076.5V453.5H2081.5V415.5H2084.5V492.5H2090.5V412.5H2098.5V408.5H2099.5V435.5H2101.5V537.5H2104.5V447.5H2106.5V520.5H2108.5V431.5H2110.5V410.5H2112.5V488.5H2113.5V439.5H2114.5V493.5H2115.5V450.5H2116.5V422.5H2118.5V520.5H2119.5V579.5H2120.5V468.5H2121.5V526.5H2122.5V564.5H2123.5V520.5H2124.5V622.5H2125.5V483.5H2126.5V465.5H2128.5V454.5H2130.5V413.5H2131.5V451.5H2132.5V533.5H2133.5V559.5H2134.5V532.5H2135.5V464.5H2136.5V536.5H2137.5V429.5H2138.5V473.5H2139.5V446.5H2146.5V468.5H2147.5V487.5H2148.5V507.5H2150.5V473.5H2152.5V503.5H2154.5V453.5H2156.5V531.5H2159.5V450.5H2161.5V561.5H2163.5V562.5H2166.5V480.5H2168.5V627.5H2169.5V461.5H2170.5V531.5H2172.5V537.5H2174.5V545.5H2177.5V527.5H2179.5V616.5H2181.5V488.5H2182.5V579.5H2183.5V469.5H2184.5V516.5H2186.5V536.5H2187.5V509.5H2189.5V627.5H2190.5V444.5H2191.5V595.5H2192.5V516.5H2193.5V570.5H2195.5V533.5H2196.5V527.5H2197.5V592.5H2199.5V527.5H2200.5V434.5H2203.5V415.5H2206.5V434.5H2210.5V440.5H2212.5V453.5H2213.5V430.5H2215.5V412.5H2216.5V488.5H2217.5V410.5H2219.5V427.5H2220.5V408.5H2221.5V528.5H2222.5V407.5H2224.5V532.5H2225.5V413.5H2226.5V520.5H2228.5V407.5H2229.5V538.5H2231.5V453.5H2232.5V600.5H2234.5V417.5H2236.5V440.5H2237.5V410.5H2239.5V580.5H2240.5V485.5H2242.5V407.5H2244.5V544.5H2245.5V409.5H2246.5V408.5H2249.5V590.5H2250.5V410.5H2253.5V408.5H2254.5V571.5H2256.5V508.5H2258.5V427.5H2260.5V546.5H2263.5V415.5H2265.5V411.5H2266.5V489.5H2268.5V411.5H2269.5V435.5H2271.5V628.5H2272.5V408.5H2274.5V600.5H2275.5V506.5H2276.5V406.5H2277.5V560.5H2279.5V403.5H2281.5V408.5H2282.5V531.5H2283.5V445.5H2284.5V406.5H2287.5V402.5H2289.5V417.5H2292.5V440.5H2294.5V410.5H2297.5V430.5H2298.5V533.5H2299.5V448.5H2301.5V480.5H2303.5V470.5H2304.5V401.5H2306.5V422.5H2307.5V410.5H2310.5V405.5H2311.5V498.5H2312.5V435.5H2314.5V406.5H2316.5V425.5H2318.5V410.5H2319.5V501.5H2320.5V408.5H2321.5V435.5H2322.5V407.5H2323.5V412.5H2324.5V450.5H2325.5V407.5H2326.5V517.5H2328.5V407.5H2329.5V546.5H2330.5V408.5H2332.5V430.5H2333.5V408.5H2335.5V473.5H2336.5V407.5H2341.5V411.5H2343.5V468.5H2346.5V425.5H2347.5V485.5H2348.5V441.5H2350.5V491.5H2351.5V508.5H2352.5V439.5H2353.5V408.5H2355.5V470.5H2357.5V408.5H2359.5V439.5H2361.5V546.5H2362.5V426.5H2366.5V502.5H2367.5V412.5H2368.5V557.5H2369.5V412.5H2371.5V546.5H2372.5V518.5H2374.5V472.5H2375.5V508.5H2378.5V470.5H2380.5V407.5H2382.5V410.5H2384.5V427.5H2385.5V412.5H2387.5V407.5H2389.5V429.5H2391.5V508.5H2393.5V453.5H2395.5V465.5H2396.5V470.5H2398.5V478.5H2399.5V508.5H2401.5V487.5H2402.5V521.5H2403.5V498.5H2405.5V527.5H2406.5V506.5H2407.5V527.5H2410.5V479.5H2411.5V408.5H2413.5V453.5H2414.5V410.5H2415.5V420.5H2417.5V408.5H2419.5V562.5H2423.5V411.5H2425.5V485.5H2426.5V401.5H2427.5V439.5H2428.5V401.5H2429.5V498.5H2430.5V475.5H2432.5V488.5H2433.5V413.5H2435.5V407.5H2441.5V406.5H2444.5V413.5H2445.5V585.5H2446.5V627.5H2447.5V405.5H2449.5V407.5H2451.5V435.5H2453.5V621.5H2454.5V403.5H2456.5V408.5H2458.5V445.5H2459.5V488.5H2460.5V532.5H2462.5V408.5H2463.5V435.5H2465.5V537.5H2467.5V448.5H2469.5V408.5H2471.5V401.5H2473.5V415.5H2475.5V491.5H2477.5V410.5H2478.5V561.5H2479.5V410.5H2482.5V422.5H2484.5V408.5H2486.5V522.5H2488.5V406.5H2490.5V435.5H2491.5V411.5H2493.5V503.5H2494.5V411.5H2496.5V465.5H2498.5V408.5H2500.5V470.5H2502.5V408.5H2503.5V440.5H2505.5V407.5H2507.5V435.5H2508.5V408.5H2512.5V443.5H2513.5V408.5H2515.5V480.5H2516.5V407.5H2518.5V415.5H2519.5V448.5H2520.5V439.5H2521.5V592.5H2522.5V427.5H2523.5V512.5H2524.5V421.5H2525.5V448.5H2526.5V509.5H2527.5V569.5H2528.5V416.5H2531.5V413.5H2532.5V431.5H2533.5V413.5H2535.5V412.5H2537.5V436.5H2538.5V411.5H2539.5V427.5H2540.5V408.5H2542.5V445.5H2543.5V550.5H2548.5V489.5H2550.5V422.5H2552.5V480.5H2553.5V627.5H2555.5V443.5H2556.5V412.5H2557.5V472.5H2559.5V566.5H2560.5V458.5H2562.5V440.5H2563.5V410.5H2564.5V559.5H2565.5V445.5H2567.5V598.5H2568.5V408.5H2569.5V599.5H2571.5V410.5H2572.5V440.5H2573.5V407.5H2575.5V427.5H2576.5V465.5H2577.5V456.5H2579.5V411.5H2584.5V473.5H2586.5V408.5H2587.5V484.5H2588.5V440.5H2590.5V475.5H2591.5V410.5H2592.5V483.5H2594.5V409.5H2595.5V475.5H2597.5V415.5H2599.5V410.5H2602.5V448.5H2604.5V627.5H2606.5V412.5H2611.5V408.5H2612.5V549.5H2614.5V408.5H2615.5V430.5H2617.5V412.5H2619.5V427.5H2620.5V450.5H2622.5V413.5H2624.5V444.5H2626.5V412.5H2628.5V415.5H2630.5V422.5H2632.5V554.5H2634.5V440.5H2635.5V555.5H2636.5V412.5H2637.5V590.5H2639.5V408.5H2642.5V437.5H2645.5V541.5H2648.5V421.5H2649.5V518.5H2651.5V465.5H2653.5V422.5H2655.5V627.5H2659.5V511.5H2661.5V482.5H2662.5V446.5H2687.5V463.5H2689.5V467.5H2691.5V557.5H2693.5V451.5H2697.5V573.5H2699.5V465.5H2701.5V556.5H2702.5V497.5H2704.5V453.5H2705.5V465.5H2707.5V479.5H2709.5V458.5H2710.5V581.5H2712.5V465.5H2717.5V546.5H2719.5V469.5H2720.5V488.5H2740.5V408.5H2762.5V436.5H2764.5V449.5H2928.5V435.5H2930.5V426.5H2938.5V628.5" fill="none" stroke="#4169e1" stroke-width="1" shape-rendering="crispEdges"/>
<path d="M119.5 1109.6V825.5H133.5V816.5H134.5V772.5H135.5V798.5H147.5V777.5H165.5V825.5H196.5V751.5H197.5V772.5H198.5V818.5H200.5V763.5H201.5V807.5H202.5V825.5H210.5V754.5H211.5V803.5H216.5V825.5H221.5V770.5H222.5V825.5H224.5V814.5H225.5V759.5H227.5V722.5H228.5V779.5H229.5V788.5H230.5V794.5H232.5V825.5H234.5V814.5H235.5V798.5H238.5V801.5H239.5V825.5H266.5V814.5H267.5V825.5H270.5V722.5H271.5V825.5H273.5V798.5H275.5V735.5H276.5V825.5H281.5V784.5H282.5V825.5H283.5V789.5H284.5V825.5H288.5V736.5H289.5V825.5H296.5V793.5H297.5V825.5H301.5V706.5H301.5V778.5H303.5V825.5H309.5V746.5H310.5V825.5H324.5V809.5H326.5V799.5H336.5V825.5H343.5V764.5H344.5V825.5H442.5V729.5H443.5V825.5H465.5V820.5H466.5V825.5H483.5V792.5H484.5V825.5H503.5V800.5H505.5V825.5H532.5V744.5H539.5V825.5H545.5V728.5H547.5V825.5H562.5V800.5H563.5V810.5H565.5V692.5H568.5V715.5H570.5V803.5H572.5V790.5H575.5V688.5H577.5V711.5H580.5V825.5H604.5V815.5H606.5V825.5H608.5V773.5H610.5V825.5H612.5V686.5H613.5V825.5H622.5V700.5H630.5V825.5H635.5V698.5H637.5V796.5H638.5V823.5H639.5V825.5H643.5V718.5H645.5V756.5H646.5V825.5H659.5V693.5H659.5V825.5H671.5V689.5H678.5V825.5H682.5V804.5H687.5V742.5H688.5V820.5H690.5V825.5H693.5V812.5H696.5V714.5H700.5V825.5H702.5V790.5H704.5V820.5H711.5V710.5H716.5V751.5H719.5V728.5H721.5V597.5H724.5V649.5H725.5V697.5H728.5V668.5H729.5V697.5H731.5V633.5H732.5V735.5H733.5V623.5H735.5V728.5H736.5V623.5H737.5V633.5H739.5V655.5H746.5V809.5H748.5V729.5H750.5V825.5H762.5V762.5H764.5V825.5H766.5V710.5H767.5V825.5H772.5V817.5H773.5V825.5H774.5V670.5H775.5V825.5H776.5V540.5H776.5V732.5H777.5V825.5H783.5V726.5H784.5V677.5H786.5V770.5H793.5V641.5H794.5V622.5H795.5V716.5H802.5V825.5H815.5V823.5H818.5V825.5H825.5V673.5H829.5V825.5H832.5V676.5H836.5V825.5H838.5V708.5H839.5V678.5H841.5V814.5H843.5V788.5H861.5V801.5H863.5V825.5H865.5V790.5H870.5V825.5H872.5V783.5H876.5V825.5H886.5V774.5H888.5V781.5H895.5V822.5H899.5V793.5H902.5V701.5H907.5V711.5H908.5V825.5H909.5V712.5H912.5V825.5H914.5V684.5H916.5V761.5H919.5V825.5H921.5V715.5H922.5V778.5H923.5V756.5H926.5V825.5H928.5V737.5H930.5V825.5H931.5V742.5H934.5V725.5H936.5V817.5H937.5V750.5H939.5V825.5H940.5V742.5H942.5V708.5H943.5V766.5H945.5V792.5H948.5V784.5H949.5V825.5H950.5V694.5H952.5V712.5H954.5V733.5H955.5V717.5H957.5V798.5H958.5V825.5H962.5V767.5H968.5V678.5H974.5V825.5H977.5V816.5H979.5V774.5H980.5V705.5H982.5V825.5H984.5V694.5H986.5V809.5H987.5V699.5H989.5V746.5H990.5V731.5H994.5V801.5H995.5V737.5H996.5V803.5H998.5V707.5H1000.5V615.5H1002.5V663.5H1004.5V825.5H1006.5V708.5H1007.5V662.5H1008.5V814.5H1010.5V749.5H1012.5V813.5H1013.5V710.5H1016.5V650.5H1018.5V825.5H1021.5V823.5H1024.5V715.5H1025.5V658.5H1028.5V814.5H1029.5V767.5H1032.5V752.5H1035.5V737.5H1038.5V799.5H1040.5V694.5H1042.5V746.5H1043.5V667.5H1044.5V825.5H1045.5V726.5H1047.5V668.5H1049.5V825.5H1052.5V693.5H1054.5V784.5H1056.5V825.5H1058.5V759.5H1059.5V825.5H1061.5V812.5H1065.5V675.5H1067.5V825.5H1071.5V722.5H1073.5V701.5H1074.5V686.5H1076.5V776.5H1078.5V825.5H1083.5V727.5H1085.5V825.5H1091.5V763.5H1094.5V678.5H1096.5V825.5H1097.5V722.5H1099.5V825.5H1100.5V713.5H1101.5V825.5H1103.5V748.5H1105.5V501.5H1106.5V707.5H1108.5V727.5H1112.5V682.5H1114.5V679.5H1116.5V678.5H1119.5V702.5H1120.5V816.5H1121.5V673.5H1124.5V825.5H1125.5V700.5H1126.5V825.5H1142.5V797.5H1143.5V825.5H1149.5V761.5H1151.5V775.5H1153.5V781.5H1155.5V674.5H1157.5V686.5H1158.5V825.5H1161.5V679.5H1162.5V825.5H1164.5V681.5H1166.5V825.5H1168.5V677.5H1169.5V720.5H1171.5V825.5H1177.5V678.5H1178.5V825.5H1179.5V678.5H1182.5V679.5H1185.5V825.5H1186.5V679.5H1187.5V818.5H1189.5V744.5H1190.5V825.5H1199.5V757.5H1201.5V751.5H1202.5V746.5H1203.5V808.5H1205.5V825.5H1210.5V807.5H1211.5V681.5H1213.5V766.5H1215.5V825.5H1217.5V693.5H1219.5V825.5H1224.5V727.5H1226.5V825.5H1234.5V708.5H1235.5V825.5H1243.5V698.5H1244.5V804.5H1245.5V698.5H1246.5V785.5H1247.5V676.5H1249.5V782.5H1250.5V678.5H1251.5V693.5H1253.5V706.5H1254.5V733.5H1255.5V741.5H1256.5V825.5H1259.5V683.5H1260.5V689.5H1262.5V825.5H1264.5V684.5H1266.5V683.5H1268.5V768.5H1269.5V825.5H1275.5V766.5H1277.5V750.5H1279.5V758.5H1281.5V825.5H1289.5V674.5H1292.5V813.5H1293.5V706.5H1295.5V705.5H1296.5V672.5H1298.5V712.5H1302.5V737.5H1304.5V825.5H1306.5V736.5H1312.5V756.5H1313.5V808.5H1314.5V758.5H1316.5V683.5H1325.5V727.5H1332.5V766.5H1338.5V825.5H1346.5V747.5H1347.5V812.5H1349.5V825.5H1351.5V771.5H1352.5V825.5H1356.5V764.5H1358.5V683.5H1359.5V779.5H1360.5V803.5H1362.5V721.5H1364.5V764.5H1365.5V825.5H1371.5V773.5H1372.5V825.5H1375.5V684.5H1376.5V758.5H1378.5V708.5H1380.5V761.5H1381.5V801.5H1383.5V825.5H1385.5V713.5H1386.5V683.5H1387.5V663.5H1388.5V825.5H1391.5V720.5H1392.5V807.5H1394.5V825.5H1396.5V686.5H1398.5V825.5H1400.5V761.5H1401.5V688.5H1402.5V797.5H1405.5V682.5H1406.5V825.5H1409.5V684.5H1410.5V711.5H1412.5V725.5H1414.5V785.5H1417.5V798.5H1418.5V825.5H1420.5V705.5H1421.5V698.5H1422.5V825.5H1426.5V752.5H1427.5V674.5H1429.5V729.5H1430.5V825.5H1432.5V756.5H1434.5V808.5H1435.5V713.5H1437.5V730.5H1438.5V768.5H1440.5V680.5H1441.5V707.5H1442.5V678.5H1456.5V679.5H1458.5V825.5H1461.5V810.5H1462.5V822.5H1465.5V790.5H1472.5V697.5H1478.5V675.5H1481.5V697.5H1483.5V673.5H1485.5V700.5H1486.5V810.5H1494.5V721.5H1501.5V825.5H1508.5V820.5H1511.5V825.5H1514.5V764.5H1516.5V785.5H1518.5V752.5H1520.5V825.5H1524.5V803.5H1527.5V825.5H1561.5V713.5H1569.5V825.5H1577.5V672.5H1580.5V800.5H1582.5V692.5H1583.5V825.5H1586.5V681.5H1587.5V825.5H1628.5V686.5H1631.5V756.5H1638.5V762.5H1641.5V825.5H1649.5V789.5H1655.5V825.5H1661.5V768.5H1662.5V825.5H1666.5V679.5H1668.5V825.5H1669.5V754.5H1670.5V825.5H1674.5V797.5H1676.5V718.5H1691.5V825.5H1700.5V770.5H1701.5V825.5H1706.5V803.5H1707.5V780.5H1708.5V825.5H1710.5V744.5H1711.5V825.5H1712.5V775.5H1714.5V789.5H1715.5V714.5H1718.5V771.5H1719.5V825.5H1730.5V725.5H1733.5V825.5H1736.5V806.5H1737.5V825.5H1741.5V678.5H1742.5V825.5H1743.5V763.5H1748.5V825.5H1750.5V780.5H1756.5V825.5H1760.5V724.5H1762.5V692.5H1765.5V825.5H1803.5V698.5H1804.5V781.5H1805.5V825.5H1813.5V748.5H1814.5V825.5H1816.5V755.5H1818.5V778.5H1822.5V825.5H1831.5V772.5H1834.5V825.5H1841.5V736.5H1843.5V825.5H1858.5V776.5H1860.5V825.5H1867.5V813.5H1869.5V825.5H1876.5V722.5H1878.5V825.5H1881.5V763.5H1882.5V755.5H1884.5V825.5H1885.5V774.5H1887.5V685.5H1889.5V785.5H1892.5V677.5H1893.5V740.5H1894.5V782.5H1896.5V680.5H1897.5V683.5H1899.5V692.5H1900.5V825.5H1901.5V706.5H1903.5V780.5H1909.5V691.5H1911.5V775.5H1912.5V770.5H1914.5V825.5H1918.5V718.5H1919.5V782.5H1923.5V788.5H1924.5V825.5H1926.5V803.5H1927.5V825.5H1933.5V705.5H1934.5V772.5H1935.5V704.5H1936.5V764.5H1937.5V807.5H1938.5V825.5H1941.5V708.5H1942.5V825.5H1948.5V781.5H1949.5V825.5H1952.5V727.5H1953.5V825.5H1956.5V796.5H1958.5V809.5H1959.5V825.5H1964.5V755.5H1965.5V670.5H1967.5V668.5H1968.5V825.5H1977.5V760.5H1978.5V825.5H1988.5V746.5H1991.5V825.5H1999.5V769.5H2000.5V825.5H2008.5V731.5H2009.5V825.5H2010.5V759.5H2011.5V825.5H2015.5V722.5H2016.5V825.5H2018.5V724.5H2019.5V730.5H2020.5V825.5H2023.5V794.5H2025.5V825.5H2028.5V692.5H2031.5V825.5H2034.5V673.5H2044.5V825.5H2047.5V783.5H2055.5V825.5H2062.5V806.5H2063.5V813.5H2066.5V825.5H2069.5V726.5H2070.5V765.5H2072.5V725.5H2076.5V825.5H2081.5V698.5H2084.5V825.5H2090.5V690.5H2097.5V674.5H2099.5V771.5H2101.5V825.5H2104.5V803.5H2106.5V809.5H2108.5V760.5H2110.5V682.5H2112.5V787.5H2114.5V825.5H2116.5V727.5H2118.5V822.5H2119.5V825.5H2123.5V814.5H2124.5V825.5H2130.5V696.5H2131.5V825.5H2137.5V751.5H2138.5V825.5H2139.5V810.5H2146.5V825.5H2150.5V747.5H2152.5V791.5H2154.5V825.5H2156.5V816.5H2159.5V825.5H2161.5V809.5H2163.5V825.5H2168.5V790.5H2169.5V621.5H2170.5V730.5H2171.5V825.5H2183.5V823.5H2185.5V825.5H2190.5V802.5H2191.5V825.5H2200.5V767.5H2203.5V704.5H2204.5V700.5H2207.5V756.5H2209.5V791.5H2211.5V825.5H2212.5V755.5H2214.5V734.5H2216.5V682.5H2218.5V745.5H2220.5V676.5H2221.5V725.5H2223.5V825.5H2224.5V672.5H2226.5V698.5H2227.5V825.5H2229.5V670.5H2231.5V799.5H2232.5V825.5H2234.5V682.5H2235.5V759.5H2236.5V825.5H2238.5V678.5H2239.5V799.5H2241.5V686.5H2242.5V668.5H2244.5V825.5H2245.5V678.5H2247.5V677.5H2249.5V825.5H2250.5V677.5H2253.5V678.5H2254.5V825.5H2257.5V696.5H2258.5V742.5H2261.5V825.5H2262.5V715.5H2264.5V687.5H2266.5V684.5H2268.5V778.5H2270.5V710.5H2272.5V679.5H2273.5V825.5H2274.5V687.5H2276.5V825.5H2277.5V657.5H2279.5V551.5H2280.5V664.5H2282.5V825.5H2284.5V812.5H2285.5V590.5H2287.5V676.5H2288.5V605.5H2289.5V715.5H2291.5V793.5H2292.5V825.5H2294.5V681.5H2296.5V737.5H2297.5V825.5H2299.5V816.5H2301.5V742.5H2303.5V705.5H2304.5V616.5H2306.5V726.5H2307.5V669.5H2309.5V665.5H2311.5V672.5H2312.5V772.5H2313.5V713.5H2314.5V659.5H2315.5V673.5H2317.5V825.5H2318.5V703.5H2319.5V803.5H2320.5V674.5H2321.5V770.5H2322.5V676.5H2323.5V677.5H2325.5V708.5H2326.5V825.5H2327.5V673.5H2328.5V825.5H2329.5V678.5H2330.5V673.5H2333.5V751.5H2334.5V703.5H2335.5V671.5H2336.5V825.5H2337.5V669.5H2339.5V676.5H2340.5V677.5H2342.5V708.5H2343.5V802.5H2344.5V825.5H2347.5V736.5H2348.5V825.5H2349.5V797.5H2350.5V825.5H2352.5V756.5H2353.5V677.5H2355.5V676.5H2357.5V674.5H2358.5V706.5H2359.5V785.5H2361.5V825.5H2362.5V738.5H2366.5V825.5H2368.5V688.5H2370.5V825.5H2371.5V690.5H2373.5V825.5H2380.5V673.5H2382.5V686.5H2383.5V671.5H2385.5V748.5H2386.5V701.5H2388.5V671.5H2389.5V754.5H2391.5V700.5H2393.5V741.5H2394.5V704.5H2396.5V645.5H2398.5V689.5H2400.5V633.5H2401.5V567.5H2402.5V623.5H2404.5V696.5H2406.5V660.5H2407.5V721.5H2409.5V696.5H2410.5V756.5H2412.5V674.5H2413.5V825.5H2415.5V701.5H2417.5V673.5H2419.5V825.5H2423.5V683.5H2425.5V665.5H2426.5V570.5H2427.5V665.5H2428.5V570.5H2429.5V787.5H2431.5V825.5H2433.5V678.5H2435.5V650.5H2436.5V671.5H2438.5V607.5H2439.5V639.5H2440.5V668.5H2442.5V640.5H2443.5V678.5H2445.5V694.5H2446.5V660.5H2448.5V663.5H2450.5V691.5H2451.5V652.5H2453.5V655.5H2454.5V658.5H2456.5V706.5H2457.5V825.5H2459.5V748.5H2460.5V825.5H2462.5V674.5H2463.5V751.5H2465.5V816.5H2468.5V825.5H2469.5V674.5H2471.5V650.5H2472.5V598.5H2474.5V698.5H2475.5V825.5H2477.5V678.5H2478.5V677.5H2480.5V676.5H2482.5V727.5H2483.5V674.5H2485.5V673.5H2487.5V825.5H2488.5V668.5H2489.5V777.5H2491.5V678.5H2492.5V677.5H2494.5V783.5H2496.5V689.5H2497.5V677.5H2499.5V676.5H2501.5V780.5H2502.5V678.5H2504.5V673.5H2505.5V609.5H2507.5V639.5H2508.5V681.5H2509.5V570.5H2511.5V684.5H2513.5V799.5H2514.5V671.5H2516.5V703.5H2518.5V705.5H2519.5V797.5H2520.5V706.5H2521.5V741.5H2522.5V722.5H2523.5V820.5H2525.5V825.5H2528.5V703.5H2532.5V694.5H2533.5V761.5H2534.5V703.5H2535.5V691.5H2537.5V782.5H2538.5V686.5H2539.5V749.5H2540.5V677.5H2541.5V764.5H2543.5V825.5H2550.5V726.5H2552.5V825.5H2555.5V796.5H2556.5V688.5H2557.5V705.5H2559.5V825.5H2561.5V787.5H2563.5V681.5H2564.5V814.5H2566.5V801.5H2567.5V679.5H2569.5V825.5H2570.5V674.5H2571.5V766.5H2573.5V671.5H2576.5V749.5H2577.5V825.5H2579.5V682.5H2581.5V688.5H2584.5V825.5H2586.5V674.5H2587.5V825.5H2590.5V681.5H2592.5V711.5H2593.5V677.5H2596.5V707.5H2598.5V679.5H2602.5V820.5H2605.5V825.5H2606.5V689.5H2611.5V674.5H2612.5V825.5H2614.5V701.5H2615.5V673.5H2618.5V713.5H2619.5V692.5H2621.5V693.5H2624.5V701.5H2626.5V688.5H2628.5V726.5H2629.5V701.5H2631.5V700.5H2633.5V825.5H2634.5V792.5H2636.5V688.5H2637.5V825.5H2639.5V675.5H2641.5V683.5H2643.5V785.5H2645.5V825.5H2647.5V690.5H2648.5V726.5H2650.5V825.5H2653.5V726.5H2655.5V825.5H2662.5V811.5H2687.5V810.5H2689.5V825.5H2707.5V812.5H2709.5V825.5H2740.5V678.5H2762.5V773.5H2764.5V823.5H2928.5V772.5H2930.5V737.5H2938.5V1109.6Z" fill="rgba(75,0,130,0.5)" stroke="none" shape-rendering="crispEdges"/>
<path d="M119.5 1109.6V825.5H133.5V816.5H134.5V772.5H135.5V798.5H147.5V777.5H165.5V825.5H196.5V751.5H197.5V772.5H198.5V818.5H200.5V763.5H201.5V807.5H202.5V825.5H210.5V754.5H211.5V803.5H216.5V825.5H221.5V770.5H222.5V825.5H224.5V814.5H225.5V759.5H227.5V722.5H228.5V779.5H229.5V788.5H230.5V794.5H232.5V825.5H234.5V814.5H235.5V798.5H238.5V801.5H239.5V825.5H266.5V814.5H267.5V825.5H270.5V722.5H271.5V825.5H273.5V798.5H275.5V735.5H276.5V825.5H281.5V784.5H282.5V825.5H283.5V789.5H284.5V825.5H288.5V736.5H289.5V825.5H296.5V793.5H297.5V825.5H301.5V706.5H301.5V778.5H303.5V825.5H309.5V746.5H310.5V825.5H324.5V809.5H326.5V799.5H336.5V825.5H343.5V764.5H344.5V825.5H442.5V729.5H443.5V825.5H465.5V820.5H466.5V825.5H483.5V792.5H484.5V825.5H503.5V800.5H505.5V825.5H532.5V744.5H539.5V825.5H545.5V728.5H547.5V825.5H562.5V800.5H563.5V810.5H565.5V692.5H568.5V715.5H570.5V803.5H572.5V790.5H575.5V688.5H577.5V711.5H580.5V825.5H604.5V815.5H606.5V825.5H608.5V773.5H610.5V825.5H612.5V686.5H613.5V825.5H622.5V700.5H630.5V825.5H635.5V698.5H637.5V796.5H638.5V823.5H639.5V825.5H643.5V718.5H645.5V756.5H646.5V825.5H659.5V693.5H659.5V825.5H671.5V689.5H678.5V825.5H682.5V804.5H687.5V742.5H688.5V820.5H690.5V825.5H693.5V812.5H696.5V714.5H700.5V825.5H702.5V790.5H704.5V820.5H711.5V710.5H716.5V751.5H719.5V728.5H721.5V597.5H724.5V649.5H725.5V697.5H728.5V668.5H729.5V697.5H731.5V633.5H732.5V735.5H733.5V623.5H735.5V728.5H736.5V623.5H737.5V633.5H739.5V655.5H746.5V809.5H748.5V729.5H750.5V825.5H762.5V762.5H764.5V825.5H766.5V710.5H767.5V825.5H772.5V817.5H773.5V825.5H774.5V670.5H775.5V825.5H776.5V540.5H776.5V732.5H777.5V825.5H783.5V726.5H784.5V677.5H786.5V770.5H793.5V641.5H794.5V622.5H795.5V716.5H802.5V825.5H815.5V823.5H818.5V825.5H825.5V673.5H829.5V825.5H832.5V676.5H836.5V825.5H838.5V708.5H839.5V678.5H841.5V814.5H843.5V788.5H861.5V801.5H863.5V825.5H865.5V790.5H870.5V825.5H872.5V783.5H876.5V825.5H886.5V774.5H888.5V781.5H895.5V822.5H899.5V793.5H902.5V701.5H907.5V711.5H908.5V825.5H909.5V712.5H912.5V825.5H914.5V684.5H916.5V761.5H919.5V825.5H921.5V715.5H922.5V778.5H923.5V756.5H926.5V825.5H928.5V737.5H930.5V825.5H931.5V742.5H934.5V725.5H936.5V817.5H937.5V750.5H939.5V825.5H940.5V742.5H942.5V708.5H943.5V766.5H945.5V792.5H948.5V784.5H949.5V825.5H950.5V694.5H952.5V712.5H954.5V733.5H955.5V717.5H957.5V798.5H958.5V825.5H962.5V767.5H968.5V678.5H974.5V825.5H977.5V816.5H979.5V774.5H980.5V705.5H982.5V825.5H984.5V694.5H986.5V809.5H987.5V699.5H989.5V746.5H990.5V731.5H994.5V801.5H995.5V737.5H996.5V803.5H998.5V707.5H1000.5V615.5H1002.5V663.5H1004.5V825.5H1006.5V708.5H1007.5V662.5H1008.5V814.5H1010.5V749.5H1012.5V813.5H1013.5V710.5H1016.5V650.5H1018.5V825.5H1021.5V823.5H1024.5V715.5H1025.5V658.5H1028.5V814.5H1029.5V767.5H1032.5V752.5H1035.5V737.5H1038.5V799.5H1040.5V694.5H1042.5V746.5H1043.5V667.5H1044.5V825.5H1045.5V726.5H1047.5V668.5H1049.5V825.5H1052.5V693.5H1054.5V784.5H1056.5V825.5H1058.5V759.5H1059.5V825.5H1061.5V812.5H1065.5V675.5H1067.5V825.5H1071.5V722.5H1073.5V701.5H1074.5V686.5H1076.5V776.5H1078.5V825.5H1083.5V727.5H1085.5V825.5H1091.5V763.5H1094.5V678.5H1096.5V825.5H1097.5V722.5H1099.5V825.5H1100.5V713.5H1101.5V825.5H1103.5V748.5H1105.5V501.5H1106.5V707.5H1108.5V727.5H1112.5V682.5H1114.5V679.5H1116.5V678.5H1119.5V702.5H1120.5V816.5H1121.5V673.5H1124.5V825.5H1125.5V700.5H1126.5V825.5H1142.5V797.5H1143.5V825.5H1149.5V761.5H1151.5V775.5H1153.5V781.5H1155.5V674.5H1157.5V686.5H1158.5V825.5H1161.5V679.5H1162.5V825.5H1164.5V681.5H1166.5V825.5H1168.5V677.5H1169.5V720.5H1171.5V825.5H1177.5V678.5H1178.5V825.5H1179.5V678.5H1182.5V679.5H1185.5V825.5H1186.5V679.5H1187.5V818.5H1189.5V744.5H1190.5V825.5H1199.5V757.5H1201.5V751.5H1202.5V746.5H1203.5V808.5H1205.5V825.5H1210.5V807.5H1211.5V681.5H1213.5V766.5H1215.5V825.5H1217.5V693.5H1219.5V825.5H1224.5V727.5H1226.5V825.5H1234.5V708.5H1235.5V825.5H1243.5V698.5H1244.5V804.5H1245.5V698.5H1246.5V785.5H1247.5V676.5H1249.5V782.5H1250.5V678.5H1251.5V693.5H1253.5V706.5H1254.5V733.5H1255.5V741.5H1256.5V825.5H1259.5V683.5H1260.5V689.5H1262.5V825.5H1264.5V684.5H1266.5V683.5H1268.5V768.5H1269.5V825.5H1275.5V766.5H1277.5V750.5H1279.5V758.5H1281.5V825.5H1289.5V674.5H1292.5V813.5H1293.5V706.5H1295.5V705.5H1296.5V672.5H1298.5V712.5H1302.5V737.5H1304.5V825.5H1306.5V736.5H1312.5V756.5H1313.5V808.5H1314.5V758.5H1316.5V683.5H1325.5V727.5H1332.5V766.5H1338.5V825.5H1346.5V747.5H1347.5V812.5H1349.5V825.5H1351.5V771.5H1352.5V825.5H1356.5V764.5H1358.5V683.5H1359.5V779.5H1360.5V803.5H1362.5V721.5H1364.5V764.5H1365.5V825.5H1371.5V773.5H1372.5V825.5H1375.5V684.5H1376.5V758.5H1378.5V708.5H1380.5V761.5H1381.5V801.5H1383.5V825.5H1385.5V713.5H1386.5V683.5H1387.5V663.5H1388.5V825.5H1391.5V720.5H1392.5V807.5H1394.5V825.5H1396.5V686.5H1398.5V825.5H1400.5V761.5H1401.5V688.5H1402.5V797.5H1405.5V682.5H1406.5V825.5H1409.5V684.5H1410.5V711.5H1412.5V725.5H1414.5V785.5H1417.5V798.5H1418.5V825.5H1420.5V705.5H1421.5V698.5H1422.5V825.5H1426.5V752.5H1427.5V674.5H1429.5V729.5H1430.5V825.5H1432.5V756.5H1434.5V808.5H1435.5V713.5H1437.5V730.5H1438.5V768.5H1440.5V680.5H1441.5V707.5H1442.5V678.5H1456.5V679.5H1458.5V825.5H1461.5V810.5H1462.5V822.5H1465.5V790.5H1472.5V697.5H1478.5V675.5H1481.5V697.5H1483.5V673.5H1485.5V700.5H1486.5V810.5H1494.5V721.5H1501.5V825.5H1508.5V820.5H1511.5V825.5H1514.5V764.5H1516.5V785.5H1518.5V752.5H1520.5V825.5H1524.5V803.5H1527.5V825.5H1561.5V713.5H1569.5V825.5H1577.5V672.5H1580.5V800.5H1582.5V692.5H1583.5V825.5H1586.5V681.5H1587.5V825.5H1628.5V686.5H1631.5V756.5H1638.5V762.5H1641.5V825.5H1649.5V789.5H1655.5V825.5H1661.5V768.5H1662.5V825.5H1666.5V679.5H1668.5V825.5H1669.5V754.5H1670.5V825.5H1674.5V797.5H1676.5V718.5H1691.5V825.5H1700.5V770.5H1701.5V825.5H1706.5V803.5H1707.5V780.5H1708.5V825.5H1710.5V744.5H1711.5V825.5H1712.5V775.5H1714.5V789.5H1715.5V714.5H1718.5V771.5H1719.5V825.5H1730.5V725.5H1733.5V825.5H1736.5V806.5H1737.5V825.5H1741.5V678.5H1742.5V825.5H1743.5V763.5H1748.5V825.5H1750.5V780.5H1756.5V825.5H1760.5V724.5H1762.5V692.5H1765.5V825.5H1803.5V698.5H1804.5V781.5H1805.5V825.5H1813.5V748.5H1814.5V825.5H1816.5V755.5H1818.5V778.5H1822.5V825.5H1831.5V772.5H1834.5V825.5H1841.5V736.5H1843.5V825.5H1858.5V776.5H1860.5V825.5H1867.5V813.5H1869.5V825.5H1876.5V722.5H1878.5V825.5H1881.5V763.5H1882.5V755.5H1884.5V825.5H1885.5V774.5H1887.5V685.5H1889.5V785.5H1892.5V677.5H1893.5V740.5H1894.5V782.5H1896.5V680.5H1897.5V683.5H1899.5V692.5H1900.5V825.5H1901.5V706.5H1903.5V780.5H1909.5V691.5H1911.5V775.5H1912.5V770.5H1914.5V825.5H1918.5V718.5H1919.5V782.5H1923.5V788.5H1924.5V825.5H1926.5V803.5H1927.5V825.5H1933.5V705.5H1934.5V772.5H1935.5V704.5H1936.5V764.5H1937.5V807.5H1938.5V825.5H1941.5V708.5H1942.5V825.5H1948.5V781.5H1949.5V825.5H1952.5V727.5H1953.5V825.5H1956.5V796.5H1958.5V809.5H1959.5V825.5H1964.5V755.5H1965.5V670.5H1967.5V668.5H1968.5V825.5H1977.5V760.5H1978.5V825.5H1988.5V746.5H1991.5V825.5H1999.5V769.5H2000.5V825.5H2008.5V731.5H2009.5V825.5H2010.5V759.5H2011.5V825.5H2015.5V722.5H2016.5V825.5H2018.5V724.5H2019.5V730.5H2020.5V825.5H2023.5V794.5H2025.5V825.5H2028.5V692.5H2031.5V825.5H2034.5V673.5H2044.5V825.5H2047.5V783.5H2055.5V825.5H2062.5V806.5H2063.5V813.5H2066.5V825.5H2069.5V726.5H2070.5V765.5H2072.5V725.5H2076.5V825.5H2081.5V698.5H2084.5V825.5H2090.5V690.5H2097.5V674.5H2099.5V771.5H2101.5V825.5H2104.5V803.5H2106.5V809.5H2108.5V760.5H2110.5V682.5H2112.5V787.5H2114.5V825.5H2116.5V727.5H2118.5V822.5H2119.5V825.5H2123.5V814.5H2124.5V825.5H2130.5V696.5H2131.5V825.5H2137.5V751.5H2138.5V825.5H2139.5V810.5H2146.5V825.5H2150.5V747.5H2152.5V791.5H2154.5V825.5H2156.5V816.5H2159.5V825.5H2161.5V809.5H2163.5V825.5H2168.5V790.5H2169.5V621.5H2170.5V730.5H2171.5V825.5H2183.5V823.5H2185.5V825.5H2190.5V802.5H2191.5V825.5H2200.5V767.5H2203.5V704.5H2204.5V700.5H2207.5V756.5H2209.5V791.5H2211.5V825.5H2212.5V755.5H2214.5V734.5H2216.5V682.5H2218.5V745.5H2220.5V676.5H2221.5V725.5H2223.5V825.5H2224.5V672.5H2226.5V698.5H2227.5V825.5H2229.5V670.5H2231.5V799.5H2232.5V825.5H2234.5V682.5H2235.5V759.5H2236.5V825.5H2238.5V678.5H2239.5V799.5H2241.5V686.5H2242.5V668.5H2244.5V825.5H2245.5V678.5H2247.5V677.5H2249.5V825.5H2250.5V677.5H2253.5V678.5H2254.5V825.5H2257.5V696.5H2258.5V742.5H2261.5V825.5H2262.5V715.5H2264.5V687.5H2266.5V684.5H2268.5V778.5H2270.5V710.5H2272.5V679.5H2273.5V825.5H2274.5V687.5H2276.5V825.5H2277.5V657.5H2279.5V551.5H2280.5V664.5H2282.5V825.5H2284.5V812.5H2285.5V590.5H2287.5V676.5H2288.5V605.5H2289.5V715.5H2291.5V793.5H2292.5V825.5H2294.5V681.5H2296.5V737.5H2297.5V825.5H2299.5V816.5H2301.5V742.5H2303.5V705.5H2304.5V616.5H2306.5V726.5H2307.5V669.5H2309.5V665.5H2311.5V672.5H2312.5V772.5H2313.5V713.5H2314.5V659.5H2315.5V673.5H2317.5V825.5H2318.5V703.5H2319.5V803.5H2320.5V674.5H2321.5V770.5H2322.5V676.5H2323.5V677.5H2325.5V708.5H2326.5V825.5H2327.5V673.5H2328.5V825.5H2329.5V678.5H2330.5V673.5H2333.5V751.5H2334.5V703.5H2335.5V671.5H2336.5V825.5H2337.5V669.5H2339.5V676.5H2340.5V677.5H2342.5V708.5H2343.5V802.5H2344.5V825.5H2347.5V736.5H2348.5V825.5H2349.5V797.5H2350.5V825.5H2352.5V756.5H2353.5V677.5H2355.5V676.5H2357.5V674.5H2358.5V706.5H2359.5V785.5H2361.5V825.5H2362.5V738.5H2366.5V825.5H2368.5V688.5H2370.5V825.5H2371.5V690.5H2373.5V825.5H2380.5V673.5H2382.5V686.5H2383.5V671.5H2385.5V748.5H2386.5V701.5H2388.5V671.5H2389.5V754.5H2391.5V700.5H2393.5V741.5H2394.5V704.5H2396.5V645.5H2398.5V689.5H2400.5V633.5H2401.5V567.5H2402.5V623.5H2404.5V696.5H2406.5V660.5H2407.5V721.5H2409.5V696.5H2410.5V756.5H2412.5V674.5H2413.5V825.5H2415.5V701.5H2417.5V673.5H2419.5V825.5H2423.5V683.5H2425.5V665.5H2426.5V570.5H2427.5V665.5H2428.5V570.5H2429.5V787.5H2431.5V825.5H2433.5V678.5H2435.5V650.5H2436.5V671.5H2438.5V607.5H2439.5V639.5H2440.5V668.5H2442.5V640.5H2443.5V678.5H2445.5V694.5H2446.5V660.5H2448.5V663.5H2450.5V691.5H2451.5V652.5H2453.5V655.5H2454.5V658.5H2456.5V706.5H2457.5V825.5H2459.5V748.5H2460.5V825.5H2462.5V674.5H2463.5V751.5H2465.5V816.5H2468.5V825.5H2469.5V674.5H2471.5V650.5H2472.5V598.5H2474.5V698.5H2475.5V825.5H2477.5V678.5H2478.5V677.5H2480.5V676.5H2482.5V727.5H2483.5V674.5H2485.5V673.5H2487.5V825.5H2488.5V668.5H2489.5V777.5H2491.5V678.5H2492.5V677.5H2494.5V783.5H2496.5V689.5H2497.5V677.5H2499.5V676.5H2501.5V780.5H2502.5V678.5H2504.5V673.5H2505.5V609.5H2507.5V639.5H2508.5V681.5H2509.5V570.5H2511.5V684.5H2513.5V799.5H2514.5V671.5H2516.5V703.5H2518.5V705.5H2519.5V797.5H2520.5V706.5H2521.5V741.5H2522.5V722.5H2523.5V820.5H2525.5V825.5H2528.5V703.5H2532.5V694.5H2533.5V761.5H2534.5V703.5H2535.5V691.5H2537.5V782.5H2538.5V686.5H2539.5V749.5H2540.5V677.5H2541.5V764.5H2543.5V825.5H2550.5V726.5H2552.5V825.5H2555.5V796.5H2556.5V688.5H2557.5V705.5H2559.5V825.5H2561.5V787.5H2563.5V681.5H2564.5V814.5H2566.5V801.5H2567.5V679.5H2569.5V825.5H2570.5V674.5H2571.5V766.5H2573.5V671.5H2576.5V749.5H2577.5V825.5H2579.5V682.5H2581.5V688.5H2584.5V825.5H2586.5V674.5H2587.5V825.5H2590.5V681.5H2592.5V711.5H2593.5V677.5H2596.5V707.5H2598.5V679.5H2602.5V820.5H2605.5V825.5H2606.5V689.5H2611.5V674.5H2612.5V825.5H2614.5V701.5H2615.5V673.5H2618.5V713.5H2619.5V692.5H2621.5V693.5H2624.5V701.5H2626.5V688.5H2628.5V726.5H2629.5V701.5H2631.5V700.5H2633.5V825.5H2634.5V792.5H2636.5V688.5H2637.5V825.5H2639.5V675.5H2641.5V683.5H2643.5V785.5H2645.5V825.5H2647.5V690.5H2648.5V726.5H2650.5V825.5H2653.5V726.5H2655.5V825.5H2662.5V811.5H2687.5V810.5H2689.5V825.5H2707.5V812.5H2709.5V825.5H2740.5V678.5H2762.5V773.5H2764.5V823.5H2928.5V772.5H2930.5V737.5H2938.5V825.5" fill="none" stroke="#4b0082" stroke-width="1" shape-rendering="crispEdges"/>
<path d="M120 1109.5H582.5V1107.5H589.5V1109.5H601.5V1107.5H604.5V1109.5H678.5V1107.5H697.5V1109.5H700.5V1107.5H702.5V1109.5H717.5V1107.5H719.5V1109.5H721.5V1107.5H726.5V1109.5H731.5V1107.5H735.5V1109.5H766.5V1107.5H768.5V1109.5H772.5V1107.5H777.5V1109.5H784.5V1107.5H786.5V1109.5H793.5V1107.5H796.5V1109.5H839.5V1107.5H844.5V1109.5H861.5V1107.5H871.5V1109.5H915.5V1107.5H919.5V1109.5H923.5V1107.5H924.5V1109.5H980.5V1107.5H982.5V1109.5H990.5V1107.5H992.5V1109.5H999.5V1107.5H1001.5V1109.5H1026.5V1107.5H1035.5V1109.5H1049.5V1107.5H1058.5V1109.5H1063.5V1107.5H1066.5V1109.5H1067.5V1107.5H1071.5V1109.5H1074.5V1107.5H1075.5V1109.5H1076.5V1107.5H1077.5V1109.5H1079.5V1107.5H1080.5V1109.5H1083.5V1107.5H1085.5V1109.5H1086.5V1107.5H1087.5V1109.5H1089.5V1107.5H1093.5V1109.5H1094.5V1107.5H1096.5V1109.5H1097.5V1107.5H1101.5V1109.5H1102.5V1107.5H1103.5V1109.5H1114.5V1107.5H1115.5V1109.5H1118.5V1107.5H1122.5V1109.5H1123.5V1107.5H1125.5V1109.5H1126.5V1107.5H1128.5V1109.5H1130.5V1107.5H1134.5V1109.5H1135.5V1107.5H1136.5V1109.5H1152.5V1107.5H1160.5V1109.5H1160.5V1107.5H1163.5V1109.5H1166.5V1107.5H1168.5V1109.5H1169.5V1107.5H1171.5V1109.5H1173.5V1107.5H1174.5V1109.5H1177.5V1107.5H1178.5V1109.5H1181.5V1107.5H1182.5V1109.5H1185.5V1107.5H1187.5V1109.5H1189.5V1107.5H1193.5V1109.5H1195.5V1107.5H1199.5V1109.5H1202.5V1107.5H1206.5V1109.5H1208.5V1107.5H1211.5V1109.5H1212.5V1107.5H1214.5V1109.5H1217.5V1107.5H1219.5V1109.5H1220.5V1107.5H1223.5V1109.5H1226.5V1107.5H1230.5V1109.5H1232.5V1107.5H1236.5V1109.5H1238.5V1107.5H1239.5V1109.5H1243.5V1107.5H1247.5V1109.5H1248.5V1107.5H1251.5V1109.5H1252.5V1107.5H1256.5V1109.5H1258.5V1107.5H1259.5V1109.5H1262.5V1107.5H1263.5V1109.5H1266.5V1107.5H1267.5V1109.5H1276.5V1107.5H1277.5V1109.5H1288.5V1107.5H1302.5V1109.5H1339.5V1107.5H1341.5V1109.5H1355.5V1107.5H1365.5V1109.5H1386.5V1107.5H1387.5V1109.5H1402.5V1107.5H1403.5V1109.5H1410.5V1107.5H1425.5V1109.5H1431.5V1107.5H1442.5V1109.5H1456.5V1107.5H1457.5V1109.5H1484.5V1107.5H1487.5V1109.5H1575.5V1107.5H1591.5V1109.5H1658.5V1107.5H1659.5V1109.5H1700.5V1107.5H1701.5V1109.5H1714.5V1107.5H1715.5V1109.5H1749.5V1107.5H1760.5V1109.5H1760.5V1107.5H1767.5V1109.5H1809.5V1107.5H1811.5V1109.5H1832.5V1107.5H1834.5V1109.5H1865.5V1107.5H1869.5V1109.5H1886.5V1107.5H1887.5V1109.5H1897.5V1107.5H1898.5V1109.5H1918.5V1107.5H1919.5V1109.5H1944.5V1107.5H1945.5V1109.5H1956.5V1107.5H1957.5V1109.5H1965.5V1107.5H1970.5V1109.5H2000.5V1107.5H2025.5V1109.5H2170.5V1107.5H2186.5V1109.5H2205.5V1107.5H2208.5V1109.5H2223.5V1107.5H2242.5V1109.5H2251.5V1107.5H2252.5V1109.5H2265.5V1107.5H2293.5V1109.5H2303.5V1107.5H2306.5V1109.5H2309.5V1107.5H2313.5V1109.5H2316.5V1107.5H2320.5V1109.5H2321.5V1107.5H2322.5V1109.5H2324.5V1107.5H2328.5V1109.5H2331.5V1107.5H2332.5V1109.5H2333.5V1107.5H2336.5V1109.5H2339.5V1107.5H2343.5V1109.5H2345.5V1107.5H2349.5V1109.5H2352.5V1107.5H2355.5V1109.5H2356.5V1107.5H2360.5V1109.5H2360.5V1107.5H2367.5V1109.5H2386.5V1107.5H2393.5V1109.5H2401.5V1107.5H2403.5V1109.5H2406.5V1107.5H2407.5V1109.5H2409.5V1107.5H2410.5V1109.5H2411.5V1107.5H2414.5V1109.5H2415.5V1107.5H2417.5V1109.5H2419.5V1107.5H2423.5V1109.5H2425.5V1107.5H2426.5V1109.5H2427.5V1107.5H2430.5V1109.5H2434.5V1107.5H2437.5V1109.5H2438.5V1107.5H2442.5V1109.5H2445.5V1107.5H2448.5V1109.5H2451.5V1107.5H2455.5V1109.5H2457.5V1107.5H2461.5V1109.5H2462.5V1107.5H2464.5V1109.5H2465.5V1107.5H2467.5V1109.5H2468.5V1107.5H2470.5V1109.5H2473.5V1107.5H2474.5V1109.5H2495.5V1107.5H2499.5V1109.5H2502.5V1107.5H2504.5V1109.5H2506.5V1107.5H2509.5V1109.5H2510.5V1107.5H2512.5V1109.5H2514.5V1107.5H2517.5V1109.5H2520.5V1107.5H2523.5V1109.5H2524.5V1107.5H2525.5V1109.5H2527.5V1107.5H2528.5V1109.5H2558.5V1107.5H2559.5V1109.5H2590.5V1107.5H2591.5V1109.5H2614.5V1107.5H2631.5V1109.5H2702.5V1107.5H2705.5V1109.5H2720.5V1107.5H2741.5V1109.5H2940" stroke="#000" stroke-width="1" fill="rgba(0,0,0,0.25)" shape-rendering="crispEdges"/>
<path d="M119.5 162V1111 M119 1110.5H2940 M114 162.5H120 M114 255.5H120 M114 326.5H120 M114 398.5H120 M114 450.5H120 M114 492.5H120 M114 561.5H120 M114 628.5H120 M114 693.5H120 M114 753.5H120 M114 825.5H120 M114 875.5H120 M114 918.5H120 M114 968.5H120 M114 998.5H120 M114 1050.5H120 M114 1089.5H120 M120.5 1110V1116 M308.5 1110V1116 M496.5 1110V1116 M684.5 1110V1116 M872.5 1110V1116 M1061.5 1110V1116 M1249.5 1110V1116 M1437.5 1110V1116 M1625.5 1110V1116 M1813.5 1110V1116 M2002.5 1110V1116 M2190.5 1110V1116 M2378.5 1110V1116 M2566.5 1110V1116 M2755.5 1110V1116" stroke="#000" stroke-width="1" fill="none" shape-rendering="crispEdges"/>
<text x="109.5" y="168.6" font-size="17.5" text-anchor="end">10000</text>
<text x="2945" y="177.1" font-size="20">4095</text>
<text x="109.5" y="260.9" font-size="17.5" text-anchor="end">4000</text>
<text x="2945" y="259.6" font-size="20">3696</text>
<text x="109.5" y="332.1" font-size="17.5" text-anchor="end">2000</text>
<text x="2945" y="334.7" font-size="20">3388</text>
<text x="109.5" y="403.6" font-size="17.5" text-anchor="end">1000</text>
<text x="2945" y="404.4" font-size="20">3079</text>
<text x="109.5" y="456.3" font-size="17.5" text-anchor="end">600</text>
<text x="2945" y="454.4" font-size="20">2851</text>
<text x="109.5" y="497.7" font-size="17.5" text-anchor="end">400</text>
<text x="2945" y="499.6" font-size="20">2672</text>
<text x="109.5" y="567.1" font-size="17.5" text-anchor="end">200</text>
<text x="2945" y="569.6" font-size="20">2372</text>
<text x="109.5" y="634.5" font-size="17.5" text-anchor="end">100</text>
<text x="2945" y="634.5" font-size="20">2081</text>
<text x="109.5" y="698.8" font-size="17.5" text-anchor="end">50</text>
<text x="2945" y="699.4" font-size="20">1803</text>
<text x="109.5" y="759.1" font-size="17.5" text-anchor="end">25</text>
<text x="2945" y="759.6" font-size="20">1542</text>
<text x="109.5" y="831.5" font-size="17.5" text-anchor="end">10</text>
<text x="2945" y="834.3" font-size="20">1229</text>
<text x="109.5" y="881.0" font-size="17.5" text-anchor="end">5</text>
<text x="2945" y="879.4" font-size="20">1015</text>
<text x="109.5" y="924.7" font-size="17.5" text-anchor="end">2.5</text>
<text x="2945" y="924.4" font-size="20">819</text>
<text x="109.5" y="973.8" font-size="17.5" text-anchor="end">1</text>
<text x="2945" y="974.4" font-size="20">614</text>
<text x="109.5" y="1004.5" font-size="17.5" text-anchor="end">0.5</text>
<text x="109.5" y="1056.8" font-size="17.5" text-anchor="end">0.1</text>
<text x="109.5" y="1095.4" font-size="17.5" text-anchor="end">0.01</text>
<text x="120.5" y="1134" font-size="17.6" text-anchor="middle">0</text>
<text x="308.5" y="1134" font-size="17.6" text-anchor="middle">10000</text>
<text x="496.5" y="1134" font-size="17.6" text-anchor="middle">20000</text>
<text x="684.5" y="1134" font-size="17.6" text-anchor="middle">30000</text>
<text x="872.5" y="1134" font-size="17.6" text-anchor="middle">40000</text>
<text x="1061.5" y="1134" font-size="17.6" text-anchor="middle">50000</text>
<text x="1249.5" y="1134" font-size="17.6" text-anchor="middle">60000</text>
<text x="1437.5" y="1134" font-size="17.6" text-anchor="middle">70000</text>
<text x="1625.5" y="1134" font-size="17.6" text-anchor="middle">80000</text>
<text x="1813.5" y="1134" font-size="17.6" text-anchor="middle">90000</text>
<text x="2002.5" y="1134" font-size="17.6" text-anchor="middle">100000</text>
<text x="2190.5" y="1134" font-size="17.6" text-anchor="middle">110000</text>
<text x="2378.5" y="1134" font-size="17.6" text-anchor="middle">120000</text>
<text x="2566.5" y="1134" font-size="17.6" text-anchor="middle">130000</text>
<text x="2755.5" y="1134" font-size="17.6" text-anchor="middle">140000</text>
<text x="1530.7" y="1166" font-size="19" text-anchor="middle">frames</text>
<text transform="translate(75.4 636) rotate(-90)" font-size="20" text-anchor="middle">nits (cd/m²)</text>
<text x="119" y="71.9" font-size="20" xml:space="preserve">X-Men The Last Stand (2006) [UHD DR]</text>
<text x="119" y="97.1" font-size="20" xml:space="preserve" textLength="582" lengthAdjust="spacing">Frames: 149774. Profile: 8. Scenes: 1932. DM version: 2 (CM v4.0).</text>
<text x="119" y="122.1" font-size="20" xml:space="preserve" textLength="399" lengthAdjust="spacing">RPU mastering display: 0.0001/1000 nits  (P3)</text>
<text x="119" y="146.9" font-size="20" xml:space="preserve" textLength="755" lengthAdjust="spacing">L6 metadata: Mastering display: 0.0001/1000 nits. MaxCLL: 974 nits, MaxFALL: 365 nits</text>
<text x="1500" y="99.2" font-size="20" xml:space="preserve">DoVi L1 PLOT</text>
<text x="1759.5" y="34.0" font-size="20" xml:space="preserve">MaxFALL Scene starts at frame 52376</text>
<text x="1759.5" y="58.9" font-size="20" xml:space="preserve">MaxCLL Scene starts at frame 122526</text>
<text x="1759.5" y="83.8" font-size="20" xml:space="preserve">L5: R=0, L=0, T=280, B=280</text>
<text x="1759.5" y="108.7" font-size="20" xml:space="preserve">L2 trim(s): 100 nits, 600 nits, 1000 nits</text>
<text x="1759.5" y="133.6" font-size="20" xml:space="preserve">L8 trim(s): 100 nits</text>
<text x="2160" y="18.2" font-size="20" xml:space="preserve">MaxFALL Percentage Above 200nits: 0.05</text>
<text x="2160" y="38.2" font-size="20" xml:space="preserve">MaxFALL Percentage Above 150nits: 0.12</text>
<text x="2160" y="58.2" font-size="20" xml:space="preserve">MaxFALL Percentage Above 100nits: 0.50</text>
<text x="2160" y="78.2" font-size="20" xml:space="preserve">MaxFALL Percentage Above   92nits: 0.66</text>
<text x="2160" y="98.2" font-size="20" xml:space="preserve">MaxFALL Percentage Above   50nits: 13.26</text>
<text x="2160" y="118.2" font-size="20" xml:space="preserve">MaxFALL Percentage Above   25nits: 26.71</text>
<text x="2160" y="138.2" font-size="20" xml:space="preserve">MaxFALL Percentage Above   10nits: 52.78</text>
<text x="2160" y="158.2" font-size="20" xml:space="preserve">MaxFALL Percentage Above  2.5nits: 100.00</text>
<text x="2580" y="18.2" font-size="20" xml:space="preserve">MaxCLL Percentage Above 4000nits: 0</text>
<text x="2580" y="38.2" font-size="20" xml:space="preserve">MaxCLL Percentage Above 2000nits: 0</text>
<text x="2580" y="58.2" font-size="20" xml:space="preserve">MaxCLL Percentage Above 1500nits: 0</text>
<text x="2580" y="78.2" font-size="20" xml:space="preserve">MaxCLL Percentage Above 1000nits: 0</text>
<text x="2580" y="98.2" font-size="20" xml:space="preserve">MaxCLL Percentage Above   800nits: 18.18</text>
<text x="2580" y="118.2" font-size="20" xml:space="preserve">MaxCLL Percentage Above   500nits: 58.04</text>
<text x="2580" y="138.2" font-size="20" xml:space="preserve">MaxCLL Percentage Above   200nits: 90.70</text>
<text x="2580" y="158.2" font-size="20" xml:space="preserve">MaxCLL Percentage Above   100nits: 98.47</text>
<rect x="125.5" y="1006.5" width="477" height="98" fill="#fff" stroke="#000" stroke-width="1" shape-rendering="crispEdges"/>
<path d="M135 1025.5H155" stroke="#4169e1" stroke-width="3"/>
<path d="M135 1055.5H155" stroke="#4b0082" stroke-width="3"/>
<path d="M135 1085.5H155" stroke="#000" stroke-width="3"/>
<text x="164.5" y="1031" font-size="20" xml:space="preserve" textLength="427" lengthAdjust="spacing">Maximum (MaxCLL: 974.06 nits, avg: 478.74 nits)</text>
<text x="165.5" y="1061" font-size="20" xml:space="preserve" textLength="413" lengthAdjust="spacing">Average (MaxFALL: 365.71 nits, avg: 17.18 nits)</text>
<text x="164.5" y="1091" font-size="20" xml:space="preserve" textLength="260" lengthAdjust="spacing">Minimum (max: 0.000262 nits)</text>
</svg></body></html>
